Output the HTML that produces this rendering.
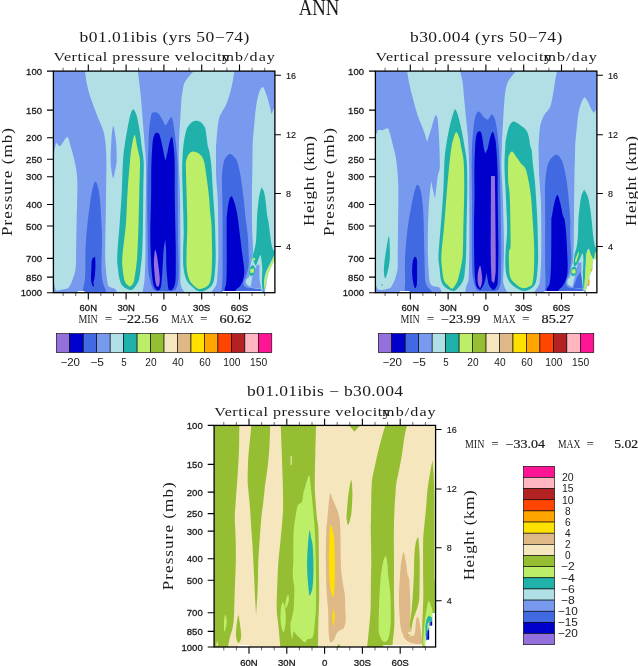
<!DOCTYPE html>
<html><head><meta charset="utf-8"><title>ANN</title>
<style>html,body{margin:0;padding:0;background:#fff}svg{display:block}text{fill:#1a1a1a}</style></head>
<body><svg width="638" height="666" viewBox="0 0 638 666">
<rect width="638" height="666" fill="#fff"/>
<text x="319.0" y="14.8" font-family='"Liberation Serif", serif' font-size="22.6" font-weight="normal" text-anchor="middle" textLength="40.6" lengthAdjust="spacingAndGlyphs">ANN</text>
<g transform="translate(0,0)">
<clipPath id="c1"><rect x="53.4" y="71.1" width="221.49999999999997" height="221.6"/></clipPath>
<g clip-path="url(#c1)"><rect x="53.4" y="71.1" width="221.49999999999997" height="221.6" fill="#7799EE"/>
<path d="M50.0 153.4L53.9 153.4C54.3 151.7 55.2 144.4 56.3 143.2C57.3 142.0 58.4 147.0 60.2 146.0C62.0 145.0 65.5 136.9 67.2 137.0C69.0 137.1 69.4 142.2 70.7 146.4C72.0 150.6 73.8 157.1 74.8 162.0C75.8 166.9 76.6 170.8 77.0 175.7C77.4 180.6 77.5 183.5 77.4 191.3C77.3 199.1 76.8 212.1 76.6 222.7C76.4 233.3 76.2 247.5 76.1 255.0C75.9 262.5 76.0 264.5 75.7 267.6C75.4 270.8 75.1 271.8 74.5 273.9C73.9 276.0 73.0 278.3 72.3 280.2C71.6 282.1 70.9 283.8 70.1 285.2C69.3 286.6 68.9 287.6 67.6 288.3C66.3 289.0 64.3 289.2 62.5 289.6C60.7 290.0 58.1 291.1 56.9 290.8C55.6 290.5 55.5 289.1 55.0 287.7C54.5 286.3 54.2 283.5 54.1 282.7L50.0 282.0Z" fill="#B0E0E6"/>
<path d="M84.8 69.0C85.1 71.5 85.8 78.7 86.8 83.7C87.8 88.8 89.4 94.1 91.1 99.3C92.8 104.5 95.0 109.8 97.0 115.0C99.0 120.2 102.0 126.8 103.3 130.7C104.6 134.6 104.5 135.9 104.9 138.5C105.3 141.1 105.5 142.5 105.8 146.4C106.0 150.3 106.4 154.5 106.4 162.0C106.5 169.5 106.2 181.2 106.1 191.3C106.0 201.4 105.8 212.2 105.6 222.7C105.4 233.1 105.2 246.5 105.2 254.0C105.2 261.5 105.5 263.2 105.8 267.6C106.1 272.0 106.6 277.1 107.1 280.2C107.6 283.3 107.6 284.9 108.9 286.4C110.2 287.8 113.7 287.5 115.2 288.9C116.7 290.3 117.5 294.0 118.0 295.0L142.2 295.0C142.3 294.4 142.4 292.8 142.6 291.4C142.8 290.0 143.3 288.3 143.6 286.4C143.9 284.5 144.2 283.3 144.5 280.2C144.8 277.1 144.9 271.8 145.1 267.6C145.3 263.4 145.4 261.3 145.5 255.0C145.6 248.7 145.4 240.7 145.5 230.0C145.6 219.3 145.8 201.3 145.9 191.0C146.0 180.7 146.1 173.8 146.0 168.0C145.9 162.2 145.8 159.6 145.6 156.0C145.4 152.4 145.1 150.6 144.8 146.4C144.5 142.2 144.0 135.9 143.6 130.7C143.2 125.5 142.7 120.2 142.3 115.0C141.9 109.8 141.6 104.5 141.1 99.3C140.6 94.1 140.0 88.8 139.4 83.7C138.8 78.7 137.9 71.5 137.6 69.0Z" fill="#B0E0E6"/>
<path d="M113.2 126.0C112.5 126.0 111.8 134.3 111.4 140.0C111.0 145.7 110.6 155.0 110.6 160.0C110.6 165.0 111.0 167.0 111.4 170.0C111.8 173.0 112.6 178.0 113.2 178.0C113.8 178.0 114.6 173.0 115.2 170.0C115.8 167.0 116.6 165.0 116.7 160.0C116.8 155.0 116.5 145.7 115.9 140.0C115.3 134.3 114.0 126.0 113.2 126.0Z" fill="#7799EE"/>
<path d="M196.0 69.0C194.7 70.4 190.0 75.0 188.0 77.4C186.0 79.9 185.0 81.4 184.1 83.7C183.2 86.0 182.9 88.9 182.5 91.5C182.1 94.1 181.7 95.4 181.4 99.3C181.1 103.2 180.8 109.8 180.5 115.0C180.2 120.2 179.8 125.5 179.5 130.7C179.2 135.9 179.0 141.2 178.9 146.4C178.8 151.6 178.6 153.6 178.8 162.0C179.0 170.4 179.7 183.3 180.0 197.0C180.3 210.7 180.3 231.0 180.4 244.0C180.5 257.0 180.4 268.3 180.4 275.0C180.4 281.7 180.2 281.5 180.6 284.0C181.0 286.5 182.1 288.2 183.0 290.0C183.9 291.8 185.5 294.2 186.0 295.0L209.0 295.0C209.8 294.0 212.4 291.1 213.7 289.0C215.0 286.9 216.1 286.4 216.8 282.7C217.5 279.0 217.6 272.2 217.9 267.0C218.2 261.8 218.4 259.1 218.4 251.3C218.4 243.5 218.3 229.1 218.2 220.0C218.1 210.9 217.9 204.1 217.6 197.0C217.3 189.9 216.5 185.4 216.2 177.6C215.9 169.8 216.0 155.7 216.0 150.0C216.0 144.3 216.1 146.4 216.3 143.2C216.5 140.0 216.8 134.9 217.3 130.7C217.8 126.5 218.3 121.3 219.1 118.2C219.9 115.1 220.8 114.0 221.9 111.9C223.0 109.8 224.3 108.7 225.7 105.6C227.1 102.5 228.9 97.3 230.1 93.1C231.3 88.9 232.1 84.5 232.9 80.5C233.7 76.5 234.4 70.9 234.7 69.0Z" fill="#B0E0E6"/>
<path d="M250.0 267.0C250.2 266.0 251.0 263.4 251.5 260.8C252.0 258.2 252.8 255.5 252.9 251.3C253.1 247.1 252.6 240.9 252.4 235.7C252.2 230.5 252.1 227.6 252.0 220.0C251.9 212.4 251.9 199.2 252.0 190.0C252.1 180.8 252.3 172.8 252.4 165.0C252.5 157.2 252.5 148.9 252.7 143.2C252.9 137.5 253.3 134.9 253.7 130.7C254.0 126.5 254.4 122.4 254.8 118.2C255.2 114.0 255.5 109.8 256.2 105.6C256.9 101.4 257.8 96.2 258.9 93.1C260.0 90.0 261.5 87.1 262.7 87.1C263.9 87.1 264.6 90.0 265.8 93.1C267.0 96.2 268.7 102.1 269.6 105.6C270.6 109.0 270.9 113.1 271.5 113.8C272.1 114.5 272.4 111.5 273.2 110.0C273.9 108.5 275.5 105.8 276.0 105.0L276.0 262.0L262.0 292.0L256.0 292.0L251.0 287.0C250.2 286.5 247.3 285.2 246.5 284.0C245.7 282.8 245.6 281.2 246.0 280.0C246.4 278.8 248.4 278.3 249.0 277.0C249.6 275.7 249.3 273.7 249.5 272.0C249.7 270.3 249.9 267.8 250.0 267.0Z" fill="#B0E0E6"/>
<path d="M82.5 295.0C82.6 294.2 82.7 291.6 82.9 290.2C83.1 288.8 83.3 288.1 83.6 286.4C83.9 284.7 84.6 283.3 84.9 280.2C85.2 277.1 85.3 271.8 85.4 267.6C85.5 263.4 85.3 259.9 85.4 255.0C85.5 250.1 85.7 243.8 86.1 238.4C86.5 233.0 87.0 227.9 87.6 222.7C88.2 217.5 88.8 212.2 89.5 207.0C90.2 201.8 91.0 195.5 92.0 191.3C93.0 187.1 94.3 181.6 95.5 181.6C96.7 181.6 98.1 187.1 98.9 191.3C99.7 195.5 100.1 201.8 100.5 207.0C100.9 212.2 101.2 217.5 101.4 222.7C101.7 227.9 102.0 233.0 102.0 238.4C102.0 243.8 101.8 250.1 101.7 255.0C101.6 259.9 101.3 263.4 101.4 267.6C101.5 271.8 101.9 277.1 102.4 280.2C102.9 283.3 103.6 284.7 104.2 286.4C104.8 288.1 105.4 288.8 105.8 290.2C106.2 291.6 106.5 294.2 106.6 295.0Z" fill="#4169E1"/>
<path d="M155.0 290.6C152.8 289.8 152.8 288.1 152.0 286.4C151.2 284.7 150.7 283.3 150.1 280.2C149.5 277.1 148.6 276.0 148.2 267.6C147.8 259.2 147.8 241.3 147.6 230.0C147.4 218.7 147.3 210.3 147.3 200.0C147.3 189.7 147.4 176.9 147.6 168.0C147.8 159.1 148.2 152.6 148.5 146.4C148.8 140.2 148.7 135.9 149.1 130.7C149.5 125.5 150.5 118.0 151.2 115.0C151.9 112.0 152.3 112.8 153.5 112.5C154.7 112.2 156.8 112.4 158.2 113.5C159.6 114.6 160.8 117.0 162.0 119.0C163.2 121.0 164.5 125.0 165.7 125.2C166.9 125.4 167.9 121.2 169.0 120.0C170.1 118.8 171.1 116.0 172.0 117.8C172.9 119.6 173.7 125.9 174.4 130.7C175.1 135.5 175.7 141.2 176.2 146.4C176.7 151.6 177.2 153.6 177.5 162.0C177.8 170.4 177.6 183.3 177.7 197.0C177.8 210.7 177.9 232.2 178.1 244.0C178.3 255.8 178.7 261.6 178.7 267.6C178.7 273.6 178.6 276.9 178.3 280.0C178.0 283.1 177.8 284.6 177.1 286.4C176.4 288.2 176.0 289.8 174.0 290.6C172.0 291.4 168.2 291.0 165.0 291.0C161.8 291.0 157.2 291.4 155.0 290.6Z" fill="#4169E1"/>
<path d="M221.3 295.0C221.3 294.2 221.3 292.6 221.5 290.5C221.7 288.4 222.1 286.6 222.3 282.7C222.5 278.8 222.6 277.4 222.6 267.0C222.6 256.6 222.6 231.7 222.6 220.0C222.6 208.3 222.4 204.1 222.3 197.0C222.2 189.9 221.8 182.9 221.9 177.6C222.1 172.3 222.7 168.2 223.2 165.1C223.7 162.0 223.9 160.7 225.1 158.8C226.2 157.0 228.3 154.0 230.1 154.0C231.9 154.0 234.3 157.0 235.7 158.8C237.0 160.7 237.3 162.0 238.2 165.1C239.0 168.2 240.1 173.4 240.8 177.6C241.5 181.8 242.1 186.0 242.6 190.2C243.1 194.4 243.6 197.7 244.1 202.7C244.6 207.7 245.2 214.6 245.8 220.0C246.4 225.4 247.2 229.2 247.7 235.0C248.2 240.8 248.5 249.5 248.7 254.5C248.9 259.5 249.0 261.5 248.7 264.8C248.4 268.1 247.4 271.6 246.7 274.1C246.0 276.6 244.8 278.2 244.3 279.9C243.8 281.6 243.1 283.2 243.5 284.5C243.9 285.8 245.1 286.8 247.0 287.5C248.9 288.2 252.6 288.1 255.0 288.5C257.4 288.9 260.1 288.6 261.4 289.7C262.6 290.8 262.3 294.1 262.5 295.0Z" fill="#4169E1"/>
<path d="M252.3 277.5L255.5 268.0L257.0 264.8L259.4 264.8L259.5 280.0L261.2 288.8L255.0 288.0L250.5 287.5L251.3 283.0Z" fill="#7799EE"/>
<path d="M94.5 257.0C94.0 257.2 92.5 257.7 92.0 259.5C91.5 261.3 91.6 264.2 91.4 267.6C91.2 271.1 90.9 277.3 91.1 280.2C91.3 283.1 91.9 284.2 92.4 285.2C92.9 286.2 93.9 286.8 94.1 286.4C94.3 286.0 93.4 284.2 93.5 282.7C93.6 281.2 94.3 280.1 94.6 277.6C94.9 275.1 95.3 270.9 95.4 267.6C95.5 264.3 95.4 259.8 95.2 258.0C95.0 256.2 95.0 256.8 94.5 257.0Z" fill="#0000CD"/>
<path d="M157.0 290.4C156.5 289.7 154.8 288.1 154.1 286.4C153.4 284.7 153.0 283.3 152.6 280.2C152.2 277.1 151.7 271.8 151.4 267.6C151.1 263.4 151.0 261.4 150.8 255.1C150.6 248.8 150.2 239.7 150.3 230.0C150.4 220.3 150.9 207.3 151.1 197.0C151.3 186.7 151.1 176.4 151.3 168.0C151.5 159.6 151.9 151.6 152.3 146.4C152.7 141.2 153.0 139.2 153.6 137.0C154.2 134.8 155.0 133.5 155.9 133.0C156.8 132.5 158.2 132.6 159.0 133.8C159.8 135.0 160.2 137.0 161.0 140.0C161.8 143.0 162.8 148.5 163.5 152.0C164.2 155.5 165.2 159.5 165.5 161.0L165.5 161.0C165.8 159.5 166.8 155.2 167.5 152.0C168.2 148.8 168.8 144.5 169.5 142.0C170.2 139.5 171.3 136.3 172.0 137.0C172.7 137.7 173.2 142.2 173.6 146.4C174.0 150.6 174.5 153.6 174.7 162.0C174.9 170.4 174.6 183.3 174.8 197.0C175.0 210.7 175.5 232.2 175.7 244.0C175.9 255.8 175.8 261.6 175.8 267.6C175.8 273.6 175.8 277.0 175.5 280.2C175.2 283.4 174.7 285.3 174.0 287.0C173.3 288.7 172.3 289.9 171.4 290.2C170.5 290.5 169.2 290.6 168.5 288.9C167.8 287.2 167.8 283.8 167.4 280.2C167.1 276.6 166.6 272.6 166.4 267.6C166.2 262.6 166.3 254.7 166.1 250.0C165.9 245.3 165.3 241.2 165.2 239.4L165.2 239.4C164.9 241.2 164.0 245.3 163.6 250.0C163.2 254.7 162.9 262.6 162.6 267.6C162.3 272.6 162.1 276.6 161.7 280.2C161.3 283.8 161.0 287.2 160.2 288.9C159.4 290.6 157.5 290.1 157.0 290.4Z" fill="#0000CD"/>
<path d="M224.3 295.0C224.4 294.0 224.4 291.1 224.7 289.0C225.0 286.9 225.9 286.4 226.2 282.7C226.5 279.0 226.6 277.4 226.7 267.0C226.8 256.6 226.6 228.6 226.7 220.0C226.8 211.4 226.7 218.1 227.0 215.2C227.3 212.3 227.9 205.9 228.6 202.7C229.3 199.5 230.3 196.2 231.3 196.2C232.3 196.2 233.5 199.5 234.5 202.7C235.5 205.9 236.5 209.8 237.4 215.2C238.3 220.6 239.1 228.4 239.9 235.0C240.7 241.6 241.6 248.8 242.3 254.5C243.0 260.2 244.1 265.1 244.3 269.2C244.5 273.3 244.0 276.2 243.3 279.0C242.7 281.8 241.6 284.0 240.4 285.8C239.2 287.6 237.1 288.2 236.0 289.7C234.9 291.2 234.3 294.1 234.0 295.0Z" fill="#0000CD"/>
<path d="M155.1 250.1C154.6 251.1 154.0 257.3 153.9 261.3C153.8 265.3 154.3 270.1 154.6 273.9C154.9 277.7 155.3 281.8 155.9 283.9C156.5 286.0 157.7 287.4 158.3 286.8C159.0 286.2 159.8 283.4 159.8 280.2C159.9 277.0 159.1 271.8 158.6 267.6C158.1 263.4 157.4 258.0 156.8 255.1C156.2 252.2 155.6 249.1 155.1 250.1Z" fill="#9370DB"/>
<path d="M133.1 109.5C132.1 109.5 131.3 111.5 130.3 115.0C129.3 118.5 128.1 125.5 127.1 130.7C126.1 135.9 125.2 141.2 124.5 146.4C123.8 151.6 123.4 154.5 122.9 162.0C122.5 169.5 122.3 181.2 121.8 191.3C121.3 201.4 120.5 212.1 119.7 222.7C119.0 233.3 117.6 247.6 117.3 255.1C117.0 262.6 117.4 263.4 117.8 267.6C118.2 271.8 118.9 277.1 119.8 280.2C120.7 283.3 121.5 284.8 123.2 286.4C124.9 288.0 128.3 289.6 130.1 289.9C131.9 290.2 132.4 289.9 133.8 288.3C135.2 286.7 137.7 283.6 138.8 280.2C140.0 276.8 140.2 271.8 140.7 267.6C141.2 263.4 141.6 261.4 142.0 255.1C142.4 248.8 142.7 240.6 142.9 230.0C143.1 219.4 143.2 202.6 143.3 191.3C143.4 180.0 144.0 169.5 143.7 162.0C143.4 154.5 142.4 151.6 141.7 146.4C141.0 141.2 140.6 135.9 139.7 130.7C138.8 125.5 137.6 118.5 136.5 115.0C135.4 111.5 134.1 109.5 133.1 109.5Z" fill="#20B2AA"/>
<path d="M194.3 121.0C192.5 121.4 191.0 122.8 189.6 124.4C188.2 126.0 187.1 127.0 186.1 130.7C185.1 134.4 184.0 140.2 183.3 146.4C182.7 152.6 182.3 159.6 182.2 168.0C182.1 176.4 182.6 186.7 182.8 197.0C183.1 207.3 183.6 220.9 183.7 230.0C183.8 239.1 183.1 245.1 183.1 251.3C183.1 257.5 182.9 262.3 183.4 267.0C183.9 271.7 185.0 276.5 186.3 279.6C187.6 282.7 188.9 283.9 191.0 285.8C193.1 287.8 196.2 290.7 198.8 291.3C201.4 291.9 204.2 291.1 206.6 289.7C209.0 288.3 211.8 286.5 213.2 282.7C214.6 278.9 214.9 272.2 215.3 267.0C215.7 261.8 215.8 259.1 215.7 251.3C215.6 243.5 215.2 229.1 214.8 220.0C214.4 210.9 213.9 206.2 213.3 197.0C212.7 187.8 212.0 172.9 211.3 165.1C210.6 157.3 209.6 153.1 209.0 150.0C208.4 146.9 208.5 149.6 207.9 146.4C207.3 143.2 206.3 134.0 205.7 130.7C205.1 127.4 205.4 128.2 204.5 126.8C203.6 125.3 202.2 123.0 200.5 122.0C198.8 121.0 196.1 120.6 194.3 121.0Z" fill="#20B2AA"/>
<path d="M261.2 187.6C260.9 189.1 259.7 193.9 259.2 196.4C258.7 198.9 258.6 199.6 258.3 202.7C258.0 205.8 257.4 209.8 257.1 215.2C256.8 220.6 256.7 230.1 256.4 235.0C256.1 239.9 256.0 241.9 255.5 244.8C255.0 247.7 254.1 250.5 253.6 252.6C253.1 254.7 252.3 255.9 252.4 257.5C252.5 259.1 253.4 261.0 254.0 262.3C254.6 263.6 255.2 265.9 256.0 265.3C256.8 264.8 257.7 260.7 258.5 259.0C259.3 257.3 260.1 254.9 260.6 255.0C261.1 255.1 261.1 257.0 261.4 259.4C261.7 261.8 262.2 265.9 262.3 269.2C262.4 272.5 261.9 275.9 261.9 279.0C261.9 282.1 262.0 285.7 262.3 287.7C262.6 289.7 263.5 292.4 263.8 291.0C264.1 289.6 263.9 282.3 264.3 279.0C264.7 275.7 265.3 273.7 266.3 271.1C267.3 268.5 268.9 265.9 270.2 263.3C271.5 260.7 273.1 257.4 274.1 255.5C275.1 253.6 275.7 252.6 276.0 252.0L276.0 252.0C275.6 251.8 274.3 251.8 273.6 250.6C272.9 249.4 272.2 247.4 271.6 244.8C271.0 242.2 270.7 238.8 270.2 235.0C269.7 231.2 269.0 225.3 268.5 222.0C268.0 218.7 267.6 218.4 267.1 215.2C266.7 212.0 266.3 206.7 265.8 202.7C265.3 198.7 264.7 193.9 263.9 191.4C263.1 188.9 261.6 188.2 261.2 187.6Z" fill="#20B2AA"/>
<path d="M252.0 265.3C251.2 265.8 250.1 267.7 249.6 269.0C249.1 270.3 249.0 271.8 249.2 273.0C249.3 274.2 249.9 275.6 250.5 276.0C251.1 276.4 251.8 276.1 252.5 275.6C253.2 275.1 254.2 274.1 254.6 273.0C255.0 271.9 255.1 270.1 255.0 269.0C254.9 267.9 254.7 266.9 254.2 266.3C253.7 265.7 252.8 264.9 252.0 265.3Z" fill="#20B2AA"/>
<path d="M134.6 135.1C133.7 135.1 132.6 141.9 131.8 146.4C131.0 150.9 130.6 154.5 129.9 162.0C129.2 169.5 128.2 181.2 127.6 191.3C126.9 201.4 126.8 212.1 126.0 222.7C125.2 233.3 123.1 247.6 122.5 255.1C121.9 262.6 122.2 263.4 122.5 267.6C122.8 271.8 123.6 277.3 124.4 280.2C125.2 283.1 126.5 284.0 127.5 285.0C128.4 286.0 129.2 286.6 130.1 286.4C130.9 286.2 131.9 284.9 132.6 283.9C133.3 282.9 133.5 282.9 134.1 280.2C134.7 277.5 135.6 271.8 136.1 267.6C136.6 263.4 136.9 262.2 137.3 255.1C137.7 248.0 138.2 235.6 138.5 225.0C138.8 214.4 139.1 201.8 139.3 191.3C139.6 180.8 140.1 168.1 140.0 162.0C139.9 155.9 139.5 157.6 139.0 155.0C138.5 152.4 137.8 149.7 137.1 146.4C136.4 143.1 135.5 135.1 134.6 135.1Z" fill="#BCEE68"/>
<path d="M193.3 151.6C191.4 151.5 189.9 152.9 188.8 154.2C187.7 155.5 187.0 157.5 186.5 159.4C186.0 161.3 185.9 159.4 185.9 165.7C185.9 172.0 186.5 187.1 186.7 197.0C186.9 206.9 187.3 215.9 187.3 225.0C187.3 234.1 186.7 244.3 186.6 251.3C186.5 258.3 186.3 262.6 186.6 267.0C186.9 271.4 187.6 275.1 188.6 278.0C189.6 280.9 190.8 282.5 192.5 284.3C194.2 286.1 196.6 288.5 198.8 289.0C201.0 289.5 204.1 288.2 205.9 287.1C207.7 286.1 208.9 284.7 209.8 282.7C210.7 280.7 211.0 277.5 211.3 274.9C211.6 272.3 211.7 270.9 211.8 267.0C211.9 263.1 212.2 258.3 212.1 251.3C212.0 244.3 211.8 231.4 211.5 225.0C211.2 218.6 210.6 217.4 210.2 212.7C209.8 208.0 209.5 202.2 209.0 197.0C208.5 191.8 207.9 187.1 207.1 181.3C206.3 175.6 205.4 166.9 204.3 162.5C203.2 158.1 202.1 156.5 200.3 154.7C198.5 152.9 195.2 151.7 193.3 151.6Z" fill="#BCEE68"/>
<path d="M250.1 268.9L253.9 268.4L254.0 272.6L250.3 273.1Z" fill="#BCEE68"/>
<path d="M253.1 257.9L255.0 257.7L255.0 260.4L253.2 260.6Z" fill="#BCEE68"/>
<path d="M275.0 254.0L270.6 263.6L266.8 271.3L264.8 279.0L264.2 286.0L264.6 290.5L265.8 286.0L266.6 279.0L268.4 272.5L271.8 265.5L275.0 258.5Z" fill="#BCEE68"/>
<path d="M276.0 258.0L272.0 265.5L268.7 273.0L267.0 281.0L266.0 287.0L264.8 291.0L264.8 295.0L276.0 295.0Z" fill="#FFFFFF"/>
<path d="M222.4 290.9L262.0 290.9L262.0 295.0L222.4 295.0Z" fill="#FFFFFF"/>
<path d="M77.8 291.0L84.5 291.0L84.5 295.0L77.8 295.0Z" fill="#FFFFFF"/>
</g>
<rect x="53.4" y="71.1" width="221.49999999999997" height="221.6" fill="none" stroke="#000" stroke-width="1.3"/>
<path d="M88.3 71.1v-6.7M88.3 292.7v6.7M126.1 71.1v-6.7M126.1 292.7v6.7M163.9 71.1v-6.7M163.9 292.7v6.7M201.7 71.1v-6.7M201.7 292.7v6.7M239.5 71.1v-6.7M239.5 292.7v6.7M53.4 71.1h-6.4M53.4 110.1h-6.4M53.4 137.8h-6.4M53.4 159.3h-6.4M53.4 176.8h-6.4M53.4 204.5h-6.4M53.4 226.0h-6.4M53.4 258.4h-6.4M53.4 277.1h-6.4M53.4 292.7h-6.4M274.9 75.2h6.0M274.9 134.7h6.0M274.9 193.5h6.0M274.9 246.5h6.0" stroke="#000" stroke-width="1.1" fill="none"/>
<path d="M63.1 71.1v-3.4M63.1 292.7v3.4M75.7 71.1v-3.4M75.7 292.7v3.4M100.9 71.1v-3.4M100.9 292.7v3.4M113.5 71.1v-3.4M113.5 292.7v3.4M138.7 71.1v-3.4M138.7 292.7v3.4M151.3 71.1v-3.4M151.3 292.7v3.4M176.5 71.1v-3.4M176.5 292.7v3.4M189.1 71.1v-3.4M189.1 292.7v3.4M214.3 71.1v-3.4M214.3 292.7v3.4M226.9 71.1v-3.4M226.9 292.7v3.4M252.1 71.1v-3.4M252.1 292.7v3.4M264.7 71.1v-3.4M264.7 292.7v3.4" stroke="#000" stroke-width="0.6" fill="none"/>
<text x="42.0" y="74.7" font-family='"Liberation Sans", sans-serif' font-size="9.8" font-weight="normal" text-anchor="end" textLength="15.9" lengthAdjust="spacingAndGlyphs" stroke="#1a1a1a" stroke-width="0.3">100</text>
<text x="42.0" y="113.7" font-family='"Liberation Sans", sans-serif' font-size="9.8" font-weight="normal" text-anchor="end" textLength="15.9" lengthAdjust="spacingAndGlyphs" stroke="#1a1a1a" stroke-width="0.3">150</text>
<text x="42.0" y="141.4" font-family='"Liberation Sans", sans-serif' font-size="9.8" font-weight="normal" text-anchor="end" textLength="15.9" lengthAdjust="spacingAndGlyphs" stroke="#1a1a1a" stroke-width="0.3">200</text>
<text x="42.0" y="162.9" font-family='"Liberation Sans", sans-serif' font-size="9.8" font-weight="normal" text-anchor="end" textLength="15.9" lengthAdjust="spacingAndGlyphs" stroke="#1a1a1a" stroke-width="0.3">250</text>
<text x="42.0" y="180.4" font-family='"Liberation Sans", sans-serif' font-size="9.8" font-weight="normal" text-anchor="end" textLength="15.9" lengthAdjust="spacingAndGlyphs" stroke="#1a1a1a" stroke-width="0.3">300</text>
<text x="42.0" y="208.1" font-family='"Liberation Sans", sans-serif' font-size="9.8" font-weight="normal" text-anchor="end" textLength="15.9" lengthAdjust="spacingAndGlyphs" stroke="#1a1a1a" stroke-width="0.3">400</text>
<text x="42.0" y="229.6" font-family='"Liberation Sans", sans-serif' font-size="9.8" font-weight="normal" text-anchor="end" textLength="15.9" lengthAdjust="spacingAndGlyphs" stroke="#1a1a1a" stroke-width="0.3">500</text>
<text x="42.0" y="262.0" font-family='"Liberation Sans", sans-serif' font-size="9.8" font-weight="normal" text-anchor="end" textLength="15.9" lengthAdjust="spacingAndGlyphs" stroke="#1a1a1a" stroke-width="0.3">700</text>
<text x="42.0" y="280.7" font-family='"Liberation Sans", sans-serif' font-size="9.8" font-weight="normal" text-anchor="end" textLength="15.9" lengthAdjust="spacingAndGlyphs" stroke="#1a1a1a" stroke-width="0.3">850</text>
<text x="42.0" y="296.3" font-family='"Liberation Sans", sans-serif' font-size="9.8" font-weight="normal" text-anchor="end" textLength="21.2" lengthAdjust="spacingAndGlyphs" stroke="#1a1a1a" stroke-width="0.3">1000</text>
<text x="286.0" y="78.6" font-family='"Liberation Sans", sans-serif' font-size="9.0" font-weight="normal" text-anchor="start" textLength="10.0" lengthAdjust="spacingAndGlyphs" stroke="#1a1a1a" stroke-width="0.15">16</text>
<text x="286.0" y="138.1" font-family='"Liberation Sans", sans-serif' font-size="9.0" font-weight="normal" text-anchor="start" textLength="10.0" lengthAdjust="spacingAndGlyphs" stroke="#1a1a1a" stroke-width="0.15">12</text>
<text x="286.0" y="196.9" font-family='"Liberation Sans", sans-serif' font-size="9.0" font-weight="normal" text-anchor="start" textLength="5.0" lengthAdjust="spacingAndGlyphs" stroke="#1a1a1a" stroke-width="0.15">8</text>
<text x="286.0" y="249.9" font-family='"Liberation Sans", sans-serif' font-size="9.0" font-weight="normal" text-anchor="start" textLength="5.0" lengthAdjust="spacingAndGlyphs" stroke="#1a1a1a" stroke-width="0.15">4</text>
<text x="79.6" y="311.3" font-family='"Liberation Sans", sans-serif' font-size="9.8" font-weight="normal" text-anchor="start" textLength="17.4" lengthAdjust="spacingAndGlyphs" stroke="#1a1a1a" stroke-width="0.3">60N</text>
<text x="117.4" y="311.3" font-family='"Liberation Sans", sans-serif' font-size="9.8" font-weight="normal" text-anchor="start" textLength="17.4" lengthAdjust="spacingAndGlyphs" stroke="#1a1a1a" stroke-width="0.3">30N</text>
<text x="161.2" y="311.3" font-family='"Liberation Sans", sans-serif' font-size="9.8" font-weight="normal" text-anchor="start" textLength="5.4" lengthAdjust="spacingAndGlyphs" stroke="#1a1a1a" stroke-width="0.3">0</text>
<text x="193.0" y="311.3" font-family='"Liberation Sans", sans-serif' font-size="9.8" font-weight="normal" text-anchor="start" textLength="17.4" lengthAdjust="spacingAndGlyphs" stroke="#1a1a1a" stroke-width="0.3">30S</text>
<text x="230.8" y="311.3" font-family='"Liberation Sans", sans-serif' font-size="9.8" font-weight="normal" text-anchor="start" textLength="17.4" lengthAdjust="spacingAndGlyphs" stroke="#1a1a1a" stroke-width="0.3">60S</text>
<text transform="translate(79.6,41.5) scale(1.2,1)" font-family='"Liberation Serif", serif' font-size="14.6" font-weight="normal" textLength="141.5" lengthAdjust="spacing">b01.01ibis (yrs 50−74)</text>
<text transform="translate(53.6,61.4) scale(1.2,1)" font-family='"Liberation Serif", serif' font-size="13.4" font-weight="normal" textLength="147.1" lengthAdjust="spacing">Vertical pressure velocity</text>
<text transform="translate(221.4,61.4) scale(1.2,1)" font-family='"Liberation Serif", serif' font-size="13.4" font-weight="normal" textLength="44.6" lengthAdjust="spacing">mb/day</text>
<text transform="translate(12,236) rotate(-90) scale(1.15,1)" font-family='"Liberation Serif", serif' font-size="14.8" textLength="93.9" lengthAdjust="spacing">Pressure (mb)</text>
<text transform="translate(313.5,226) rotate(-90) scale(1.15,1)" font-family='"Liberation Serif", serif' font-size="14.8" textLength="78.3" lengthAdjust="spacing">Height (km)</text>
</g>
<g transform="translate(322,0)">
<clipPath id="c2"><rect x="53.4" y="71.1" width="221.49999999999997" height="221.6"/></clipPath>
<g clip-path="url(#c2)"><rect x="53.4" y="71.1" width="221.49999999999997" height="221.6" fill="#7799EE"/>
<path d="M50.0 134.0L54.7 133.8C55.0 133.2 55.4 130.5 56.3 129.9C57.2 129.3 58.6 130.5 60.2 130.2C61.8 129.9 64.4 127.7 65.7 128.3C67.0 128.9 67.2 131.3 68.0 133.8C68.8 136.3 69.5 139.5 70.4 143.2C71.3 146.9 72.7 151.7 73.5 155.8C74.3 159.9 74.6 163.1 75.1 168.0C75.6 172.9 76.1 178.5 76.3 185.0C76.5 191.5 76.3 199.5 76.3 207.0C76.2 214.5 76.1 222.0 76.0 230.0C75.9 238.0 75.8 248.7 75.7 255.0C75.7 261.3 75.9 264.5 75.7 267.6C75.5 270.8 75.0 271.8 74.5 273.9C74.0 276.0 73.3 278.3 72.6 280.2C71.9 282.1 70.9 283.8 70.1 285.2C69.3 286.6 69.3 287.5 67.6 288.3C65.9 289.1 62.0 289.8 60.0 289.9C58.0 290.0 56.6 289.7 55.6 288.9C54.6 288.1 54.4 285.8 54.1 285.2L50.0 285.0Z" fill="#B0E0E6"/>
<path d="M84.8 69.0C85.2 71.5 86.2 78.7 87.3 83.7C88.3 88.8 89.7 94.1 91.1 99.3C92.5 104.5 93.7 109.8 95.5 115.0C97.3 120.2 100.1 126.2 101.7 130.7C103.3 135.1 104.6 139.9 105.2 141.7L105.2 141.7C105.9 139.3 108.4 131.5 109.6 127.6C110.8 123.7 111.5 120.6 112.2 118.5C112.9 116.4 113.3 115.6 113.5 115.0L113.5 115.0C113.8 115.5 115.0 115.6 115.5 118.2C116.0 120.8 116.3 126.0 116.6 130.7C116.9 135.4 117.2 140.2 117.4 146.4C117.6 152.6 118.0 163.1 117.7 168.0C117.4 172.9 116.4 171.8 115.8 175.7C115.2 179.6 114.4 187.5 113.9 191.3C113.4 195.1 113.2 197.2 113.0 198.4L113.0 198.4C112.7 197.0 111.6 192.9 111.0 190.0C110.4 187.1 109.5 182.7 109.2 181.2L109.2 181.2C109.0 182.9 108.4 187.0 108.0 191.3C107.6 195.6 107.0 201.8 106.7 207.0C106.4 212.2 106.2 217.2 106.1 222.7C105.9 228.2 105.8 234.8 105.8 240.0C105.8 245.2 105.7 249.4 105.8 254.0C105.9 258.6 106.1 263.2 106.4 267.6C106.7 272.0 106.9 277.3 107.4 280.2C107.9 283.1 108.7 284.2 109.6 285.2C110.5 286.2 111.5 286.1 112.7 286.4C113.9 286.7 115.5 286.5 116.5 287.1C117.5 287.7 118.5 288.7 119.0 290.0C119.5 291.3 119.4 294.2 119.5 295.0L143.0 295.0C143.2 293.8 143.3 290.2 143.9 287.7C144.5 285.2 145.9 283.5 146.4 280.2C146.9 276.9 146.8 272.6 147.0 267.6C147.2 262.6 147.2 256.3 147.3 250.0C147.4 243.7 147.4 238.3 147.4 230.0C147.4 221.7 147.3 210.3 147.3 200.0C147.3 189.7 147.3 176.9 147.2 168.0C147.0 159.1 146.7 152.6 146.4 146.4C146.1 140.2 145.8 135.9 145.3 130.7C144.9 125.5 144.2 120.2 143.7 115.0C143.2 109.8 142.7 104.5 142.2 99.3C141.7 94.1 141.4 87.8 140.9 83.7C140.4 79.7 139.5 77.5 139.0 75.0C138.5 72.5 138.0 70.0 137.8 69.0Z" fill="#B0E0E6"/>
<path d="M196.0 69.0C194.8 70.4 190.6 75.0 188.8 77.4C187.0 79.9 186.1 81.4 185.2 83.7C184.3 86.0 183.8 88.9 183.3 91.5C182.9 94.1 182.8 95.4 182.5 99.3C182.2 103.2 181.7 109.8 181.4 115.0C181.1 120.2 180.8 125.5 180.5 130.7C180.2 135.9 180.0 140.2 179.8 146.4C179.6 152.6 179.2 159.6 179.4 168.0C179.6 176.4 180.4 184.3 180.8 197.0C181.2 209.7 181.9 231.8 182.0 244.0C182.1 256.2 181.6 263.7 181.5 270.0C181.4 276.3 180.9 278.8 181.2 282.0C181.5 285.2 182.5 286.8 183.5 289.0C184.5 291.2 186.4 294.0 187.0 295.0L210.0 295.0C210.8 294.0 213.2 291.1 214.5 289.0C215.8 286.9 216.9 286.4 217.6 282.7C218.3 279.0 218.6 273.4 218.9 267.0C219.2 260.6 219.2 251.8 219.3 244.0C219.4 236.2 219.3 227.8 219.2 220.0C219.1 212.2 219.0 204.1 218.7 197.0C218.4 189.9 217.7 185.4 217.3 177.6C217.0 169.8 216.7 155.7 216.6 150.0C216.5 144.3 216.5 146.4 216.7 143.2C216.9 140.0 217.2 134.0 217.6 130.7C217.9 127.4 218.1 125.7 218.8 123.2C219.5 120.7 220.8 117.7 221.9 115.6C223.1 113.5 224.6 112.3 225.7 110.6C226.8 108.9 227.7 108.5 228.6 105.6C229.5 102.7 230.5 97.3 231.3 93.1C232.1 88.9 232.5 84.5 233.2 80.5C233.9 76.5 235.0 70.9 235.3 69.0Z" fill="#B0E0E6"/>
<path d="M249.5 267.0C249.8 266.0 250.7 263.4 251.0 260.8C251.3 258.2 251.4 255.5 251.5 251.3C251.6 247.1 251.7 240.9 251.8 235.7C251.9 230.5 251.9 229.7 252.0 220.0C252.1 210.3 252.2 188.4 252.4 177.6C252.6 166.8 252.8 160.7 253.0 155.0C253.2 149.3 253.1 147.2 253.3 143.2C253.6 139.1 254.1 134.9 254.5 130.7C254.9 126.5 255.2 122.4 255.8 118.2C256.4 114.0 257.2 109.0 258.3 105.6C259.4 102.2 261.0 98.6 262.1 97.8C263.2 97.0 264.2 99.1 265.2 100.6C266.2 102.1 267.2 104.9 268.3 106.9C269.4 108.9 270.6 111.9 271.5 112.5C272.4 113.1 272.8 111.2 273.5 110.4C274.2 109.6 275.6 108.0 276.0 107.5L276.0 262.0L262.0 292.0L256.0 292.0L250.5 287.0C249.8 286.6 246.8 285.7 246.0 284.5C245.2 283.3 245.3 281.2 245.6 280.0C245.9 278.8 247.4 278.3 248.0 277.0C248.6 275.7 248.8 273.7 249.0 272.0C249.2 270.3 249.4 267.8 249.5 267.0Z" fill="#B0E0E6"/>
<path d="M82.3 295.0C82.3 294.2 82.4 292.5 82.6 290.0C82.8 287.5 83.2 283.9 83.2 280.2C83.2 276.5 82.9 271.8 82.9 267.6C82.9 263.4 82.9 259.9 83.2 255.0C83.5 250.1 84.0 243.8 84.5 238.4C85.0 233.0 85.6 227.9 86.4 222.7C87.2 217.5 88.2 212.2 89.2 207.0C90.2 201.8 91.5 195.0 92.6 191.3C93.6 187.6 94.5 184.8 95.5 184.8C96.5 184.8 98.0 187.6 98.9 191.3C99.8 195.0 100.4 201.8 100.9 207.0C101.4 212.2 101.5 217.5 101.7 222.7C101.9 227.9 101.9 233.0 102.0 238.4C102.1 243.8 102.3 250.1 102.4 255.0C102.5 259.9 102.6 263.4 102.7 267.6C102.8 271.8 102.9 277.1 103.3 280.2C103.7 283.3 104.3 284.7 105.2 286.4C106.1 288.1 108.0 288.8 108.9 290.2C109.8 291.6 110.2 294.2 110.5 295.0Z" fill="#4169E1"/>
<path d="M156.0 290.6C153.9 289.8 154.1 288.1 153.3 286.4C152.5 284.7 151.9 283.3 151.4 280.2C150.9 277.1 150.3 276.0 150.1 267.6C149.8 259.2 149.9 241.3 149.9 230.0C149.9 218.7 150.1 210.3 150.1 200.0C150.1 189.7 149.7 176.9 149.7 168.0C149.7 159.1 149.8 152.6 150.1 146.4C150.3 140.2 150.8 135.1 151.2 130.7C151.6 126.2 152.1 122.6 152.7 119.7C153.3 116.8 153.9 114.8 154.6 113.5C155.2 112.2 155.9 111.6 156.6 111.6C157.3 111.6 158.0 112.5 158.8 113.3C159.6 114.1 160.2 115.5 161.3 116.6C162.5 117.7 164.6 119.7 165.7 119.7C166.8 119.7 167.2 117.3 168.0 116.5C168.8 115.7 169.6 114.2 170.4 114.7C171.2 115.2 172.3 117.0 173.1 119.7C173.9 122.4 174.5 126.2 175.1 130.7C175.7 135.1 176.2 140.2 176.7 146.4C177.1 152.6 177.5 159.6 177.8 168.0C178.1 176.4 178.2 184.3 178.4 197.0C178.6 209.7 179.1 232.2 179.2 244.0C179.3 255.8 179.1 261.6 179.0 267.6C178.9 273.6 179.1 276.9 178.9 280.0C178.7 283.1 178.3 284.6 177.7 286.4C177.0 288.2 176.9 289.8 175.0 290.6C173.1 291.4 169.2 291.0 166.0 291.0C162.8 291.0 158.1 291.4 156.0 290.6Z" fill="#4169E1"/>
<path d="M222.6 295.0C222.7 294.2 222.8 292.6 223.0 290.5C223.2 288.4 223.6 286.6 223.6 282.7C223.6 278.8 223.3 273.4 223.2 267.0C223.1 260.6 223.1 251.8 223.1 244.0C223.1 236.2 223.2 227.8 223.2 220.0C223.2 212.2 223.1 202.0 223.1 197.0C223.1 192.0 222.8 193.4 222.9 190.2C223.0 187.0 223.1 181.8 223.6 177.6C224.1 173.4 224.7 168.4 225.7 165.1C226.7 161.8 228.0 159.7 229.5 158.0C231.0 156.3 233.3 154.6 234.9 154.8C236.5 155.0 237.9 157.3 239.0 159.0C240.1 160.7 240.6 162.0 241.4 165.1C242.2 168.2 243.4 173.4 244.1 177.6C244.8 181.8 245.3 186.0 245.8 190.2C246.3 194.4 246.6 197.7 247.0 202.7C247.4 207.7 248.1 214.6 248.3 220.0C248.5 225.4 248.0 229.2 248.2 235.0C248.3 240.8 249.1 249.6 249.2 254.5C249.3 259.4 249.1 261.0 248.7 264.3C248.3 267.6 247.4 271.5 246.7 274.1C246.0 276.7 244.9 278.3 244.5 280.0C244.1 281.7 243.6 283.2 244.0 284.5C244.4 285.8 245.2 286.8 247.0 287.5C248.8 288.2 252.7 288.1 255.0 288.5C257.3 288.9 259.8 288.6 261.0 289.7C262.2 290.8 261.8 294.1 262.0 295.0Z" fill="#4169E1"/>
<path d="M252.6 277.5L254.6 268.0L256.3 262.5L259.4 262.5L259.6 280.0L261.0 288.8L255.0 288.3L250.5 287.5L251.3 283.0Z" fill="#7799EE"/>
<path d="M254.8 277.5L258.3 272.0L260.0 280.0L260.6 288.6L251.0 288.2L252.8 283.5Z" fill="#4169E1"/>
<path d="M92.6 257.0C92.0 257.6 91.2 258.9 90.8 261.3C90.4 263.7 90.1 268.2 90.1 271.4C90.1 274.5 90.5 277.8 90.8 280.2C91.1 282.6 91.6 284.1 92.0 285.5C92.4 286.9 92.8 288.6 93.3 288.3C93.8 288.0 94.6 286.3 94.9 283.9C95.2 281.5 95.1 277.7 95.1 273.9C95.1 270.1 95.3 264.0 95.1 261.3C94.9 258.6 94.5 258.3 94.1 257.6C93.7 256.9 93.1 256.4 92.6 257.0Z" fill="#0000CD"/>
<path d="M158.3 289.9C157.7 289.3 155.3 288.0 154.5 286.4C153.7 284.8 153.7 283.3 153.3 280.2C153.0 277.1 152.6 276.0 152.4 267.6C152.2 259.2 152.0 241.8 152.0 230.0C152.0 218.2 152.4 207.3 152.5 197.0C152.6 186.7 152.3 176.4 152.4 168.0C152.5 159.6 152.9 151.8 153.2 146.4C153.5 141.0 153.7 137.9 154.3 135.4C154.9 132.9 155.8 132.0 156.6 131.5C157.4 131.0 158.3 131.1 159.0 132.3C159.7 133.6 160.0 136.4 160.5 139.0C161.0 141.6 161.4 145.6 161.8 148.0C162.2 150.4 163.0 152.5 163.2 153.4L163.2 153.4C163.6 152.7 164.8 151.2 165.5 149.0C166.2 146.8 166.9 142.5 167.5 140.0C168.1 137.5 168.7 135.3 169.3 134.0C169.9 132.7 170.5 131.6 171.1 132.3C171.7 133.1 172.6 136.2 173.1 138.5C173.6 140.8 173.8 141.5 174.2 146.4C174.6 151.3 175.2 159.6 175.5 168.0C175.8 176.4 175.5 184.3 175.7 197.0C175.8 209.7 176.3 232.3 176.4 244.0C176.5 255.7 176.3 261.0 176.2 267.0C176.1 273.0 176.0 277.2 175.8 280.2C175.6 283.2 175.9 283.6 175.2 285.2C174.5 286.8 172.8 289.9 171.4 289.9C170.1 289.9 168.1 287.0 167.1 285.2C166.1 283.4 166.0 281.1 165.6 279.0C165.2 276.9 164.7 273.7 164.5 272.6L164.5 272.6C164.3 273.7 163.9 276.9 163.4 279.0C162.9 281.1 162.2 283.4 161.4 285.2C160.6 287.0 158.8 289.1 158.3 289.9Z" fill="#0000CD"/>
<path d="M224.3 295.0C224.4 294.0 224.1 291.1 224.7 289.0C225.3 286.9 227.1 286.4 227.8 282.7C228.5 279.0 228.7 273.4 228.9 267.0C229.2 260.6 229.2 251.8 229.3 244.0C229.4 236.2 229.3 224.8 229.4 220.0C229.5 215.2 229.6 218.1 230.1 215.2C230.6 212.3 231.5 206.1 232.4 202.7C233.3 199.3 234.4 194.9 235.4 194.9C236.4 194.9 237.3 199.3 238.2 202.7C239.1 206.1 240.1 212.3 240.8 215.2C241.6 218.1 242.1 216.7 242.7 220.0C243.3 223.3 243.9 229.2 244.3 235.0C244.7 240.8 245.1 249.6 245.3 254.5C245.5 259.4 245.7 261.0 245.7 264.3C245.7 267.6 245.6 271.5 245.3 274.1C245.0 276.7 244.5 277.9 243.8 279.9C243.1 281.8 242.0 284.2 240.9 285.8C239.8 287.4 238.2 288.2 237.0 289.7C235.8 291.2 234.5 294.1 234.0 295.0Z" fill="#0000CD"/>
<path d="M157.9 265.7C157.3 266.3 156.2 271.1 155.8 273.9C155.5 276.7 155.4 280.4 155.8 282.7C156.2 285.0 157.6 288.1 158.3 287.7C159.0 287.3 160.0 283.1 160.2 280.2C160.3 277.3 159.6 272.5 159.2 270.1C158.8 267.7 158.5 265.1 157.9 265.7Z" fill="#9370DB"/>
<path d="M169.0 175.9L172.9 175.9L173.3 210.0L173.7 250.0L173.7 272.0L172.6 281.0L171.4 283.3L169.6 280.2L168.9 265.0L168.7 250.0L168.8 210.0Z" fill="#9370DB"/>
<path d="M66.9 236.3C66.3 236.3 65.1 244.6 64.4 248.8C63.7 253.0 62.9 257.5 62.5 261.3C62.1 265.1 61.8 268.6 61.9 271.4C62.0 274.2 62.6 278.3 63.2 278.3C63.8 278.3 65.0 274.2 65.7 271.4C66.4 268.6 67.2 265.1 67.6 261.3C67.9 257.5 67.9 253.0 67.8 248.8C67.7 244.6 67.5 236.3 66.9 236.3Z" fill="#20B2AA"/>
<path d="M59.4 284.3L60.6 284.3L60.6 285.5L59.4 285.5Z" fill="#20B2AA"/>
<path d="M133.1 109.5C132.2 109.5 131.8 111.5 130.7 115.0C129.6 118.5 127.9 125.5 126.8 130.7C125.7 135.9 124.7 141.2 124.0 146.4C123.3 151.6 122.9 154.5 122.4 162.0C122.0 169.5 121.9 181.2 121.3 191.3C120.7 201.4 119.8 212.1 119.0 222.7C118.2 233.3 116.8 247.5 116.5 255.0C116.2 262.5 117.1 263.4 117.5 267.6C117.9 271.8 118.2 277.1 119.0 280.2C119.8 283.3 120.7 284.6 122.5 286.4C124.3 288.2 128.0 290.4 130.1 290.8C132.2 291.2 133.2 290.7 135.1 288.9C137.0 287.1 140.0 283.8 141.3 280.2C142.7 276.6 142.7 271.8 143.2 267.6C143.7 263.4 143.9 261.3 144.1 255.0C144.3 248.7 144.3 240.6 144.5 230.0C144.7 219.4 145.2 202.6 145.3 191.3C145.4 180.0 145.3 169.5 144.8 162.0C144.3 154.5 143.3 151.6 142.5 146.4C141.7 141.2 140.8 135.9 139.7 130.7C138.6 125.5 137.0 118.5 135.9 115.0C134.8 111.5 134.0 109.5 133.1 109.5Z" fill="#20B2AA"/>
<path d="M190.3 122.1C189.0 122.9 187.7 124.9 186.7 127.6C185.7 130.3 184.7 135.4 184.1 138.5C183.5 141.6 183.6 141.5 183.3 146.4C183.0 151.3 182.4 159.6 182.5 168.0C182.6 176.4 183.5 186.7 183.9 197.0C184.3 207.3 185.2 220.9 185.1 230.0C185.0 239.1 183.9 245.1 183.6 251.3C183.3 257.5 183.1 262.6 183.4 267.0C183.7 271.4 184.2 274.9 185.5 278.0C186.8 281.1 188.5 283.7 191.0 285.8C193.5 287.9 197.5 290.3 200.4 290.8C203.3 291.3 206.0 290.4 208.2 289.0C210.4 287.6 212.4 286.4 213.7 282.7C214.9 279.0 215.3 272.2 215.7 267.0C216.1 261.8 216.2 259.1 216.1 251.3C216.0 243.5 215.7 229.1 215.3 220.0C215.0 210.9 214.4 203.4 214.0 197.0C213.6 190.6 213.4 186.6 212.9 181.3C212.4 176.0 211.5 170.3 211.0 165.1C210.5 159.9 210.1 153.1 209.7 150.0C209.3 146.9 208.9 148.6 208.4 146.4C207.9 144.2 207.5 139.6 206.8 137.0C206.2 134.4 205.6 132.4 204.5 130.7C203.4 129.0 202.2 128.2 200.5 126.8C198.8 125.4 196.0 123.3 194.3 122.5C192.6 121.7 191.6 121.2 190.3 122.1Z" fill="#20B2AA"/>
<path d="M262.1 189.5C261.6 190.7 260.0 193.2 259.2 196.4C258.4 199.7 257.9 205.1 257.4 209.0C256.9 212.9 256.6 215.7 256.4 220.0C256.2 224.3 256.2 230.9 256.0 235.0C255.8 239.1 255.3 242.4 255.0 244.8C254.7 247.2 254.4 248.0 254.0 249.6C253.6 251.2 253.0 252.1 252.6 254.5C252.2 256.9 251.4 262.4 251.6 264.3C251.8 266.2 252.7 266.3 253.5 266.0C254.3 265.7 255.4 263.9 256.2 262.5C257.0 261.1 257.8 259.0 258.5 257.5C259.2 256.0 260.1 253.3 260.6 253.6C261.1 253.9 261.3 256.0 261.4 259.4C261.4 262.8 260.9 269.7 260.9 274.1C260.9 278.5 260.9 283.0 261.2 285.8C261.4 288.6 262.0 292.9 262.4 291.0C262.8 289.1 263.0 280.2 263.3 274.1C263.6 268.0 263.7 258.7 264.3 254.5C264.9 250.3 266.0 248.7 266.7 248.7C267.4 248.7 268.0 252.8 268.7 254.5C269.4 256.2 270.3 258.8 271.1 258.9C271.9 259.0 272.7 256.1 273.5 255.0C274.3 253.8 275.6 252.5 276.0 252.0L276.0 250.0C275.7 249.6 274.7 248.6 274.1 247.7C273.5 246.8 273.1 246.9 272.6 244.8C272.1 242.7 271.6 239.1 271.1 235.0C270.6 230.9 270.1 224.3 269.6 220.0C269.1 215.7 268.9 212.9 268.3 209.0C267.7 205.1 266.8 199.7 265.8 196.4C264.8 193.2 262.7 190.7 262.1 189.5Z" fill="#20B2AA"/>
<path d="M251.6 266.5C250.8 266.8 249.7 268.1 249.2 269.2C248.7 270.3 248.5 271.9 248.7 273.0C248.9 274.1 249.7 275.6 250.3 276.0C250.9 276.4 251.7 276.1 252.4 275.6C253.1 275.1 254.1 274.0 254.5 273.0C254.9 272.0 254.8 270.4 254.7 269.5C254.6 268.6 254.3 267.8 253.8 267.3C253.3 266.8 252.4 266.2 251.6 266.5Z" fill="#20B2AA"/>
<path d="M134.3 132.0C133.3 132.0 132.3 136.1 131.5 138.5C130.7 140.9 130.2 142.5 129.6 146.4C128.9 150.3 128.4 154.5 127.6 162.0C126.8 169.5 125.8 181.2 124.9 191.3C124.0 201.4 123.3 212.1 122.4 222.7C121.5 233.3 119.8 247.5 119.4 255.0C119.0 262.5 119.6 263.4 120.0 267.6C120.4 271.8 120.9 277.2 121.9 280.2C123.0 283.2 124.9 284.4 126.3 285.8C127.7 287.2 128.9 288.8 130.1 288.7C131.2 288.6 132.3 286.6 133.2 285.2C134.1 283.8 134.8 283.1 135.7 280.2C136.6 277.3 138.0 271.8 138.8 267.6C139.6 263.4 140.3 261.3 140.7 255.0C141.1 248.7 141.1 240.6 141.3 230.0C141.6 219.4 142.1 202.6 142.2 191.3C142.3 180.0 142.2 169.5 141.7 162.0C141.2 154.5 139.7 150.3 139.0 146.4C138.3 142.5 138.3 140.9 137.5 138.5C136.7 136.1 135.3 132.0 134.3 132.0Z" fill="#BCEE68"/>
<path d="M190.2 151.6C188.9 151.0 188.1 153.1 187.4 154.5C186.7 155.9 186.4 155.5 186.2 160.0C186.0 164.5 185.9 175.1 186.2 181.3C186.5 187.5 187.4 186.6 187.8 197.0C188.2 207.4 188.7 234.9 188.6 244.0C188.5 253.1 187.3 247.5 187.1 251.3C186.8 255.1 186.8 262.6 187.1 267.0C187.3 271.4 187.4 275.1 188.6 278.0C189.8 280.9 192.1 282.6 194.1 284.3C196.1 286.0 198.2 287.8 200.4 288.2C202.6 288.6 205.7 287.5 207.4 286.6C209.1 285.7 209.8 286.0 210.6 282.7C211.4 279.4 211.8 273.4 212.1 267.0C212.3 260.6 212.4 253.1 212.1 244.0C211.8 234.9 210.7 220.5 210.2 212.7C209.7 204.9 209.6 202.2 209.0 197.0C208.4 191.8 207.5 186.0 206.6 181.3C205.7 176.6 204.8 171.8 203.5 168.8C202.2 165.8 200.2 165.1 198.8 163.3C197.4 161.5 196.3 159.8 194.9 157.8C193.5 155.9 191.4 152.2 190.2 151.6Z" fill="#BCEE68"/>
<path d="M249.6 269.6L253.4 269.2L253.6 273.2L249.8 273.6Z" fill="#BCEE68"/>
<path d="M256.6 251.6L257.0 253.5L254.3 262.3L253.0 262.3L253.6 258.0Z" fill="#BCEE68"/>
<path d="M266.7 248.7L268.7 254.5L271.1 258.9L270.6 264.3L269.2 270.2L267.2 276.0L265.3 281.9L264.3 287.7L263.6 291.0L262.2 290.2L262.4 283.8L263.3 274.1L264.3 260.0L264.3 254.5Z" fill="#BCEE68"/>
<path d="M272.6 253.8L276.0 249.0L276.0 259.5L272.8 259.0Z" fill="#BCEE68"/>
<path d="M269.4 268.8L270.9 268.7L270.8 271.8L269.2 271.9Z" fill="#FFA500"/>
<path d="M266.2 279.4L267.7 279.4L267.3 285.8L265.8 285.8Z" fill="#FFA500"/>
<path d="M276.0 259.5L271.6 259.3L270.8 264.3L270.9 268.6L269.3 271.9L267.6 276.5L267.7 279.4L267.3 285.8L265.4 285.8L264.6 288.0L263.8 291.0L263.8 295.0L276.0 295.0Z" fill="#FFFFFF"/>
<path d="M222.4 290.9L262.0 290.9L262.0 295.0L222.4 295.0Z" fill="#FFFFFF"/>
<path d="M77.8 291.0L87.6 291.0L87.6 295.0L77.8 295.0Z" fill="#FFFFFF"/>
</g>
<rect x="53.4" y="71.1" width="221.49999999999997" height="221.6" fill="none" stroke="#000" stroke-width="1.3"/>
<path d="M88.3 71.1v-6.7M88.3 292.7v6.7M126.1 71.1v-6.7M126.1 292.7v6.7M163.9 71.1v-6.7M163.9 292.7v6.7M201.7 71.1v-6.7M201.7 292.7v6.7M239.5 71.1v-6.7M239.5 292.7v6.7M53.4 71.1h-6.4M53.4 110.1h-6.4M53.4 137.8h-6.4M53.4 159.3h-6.4M53.4 176.8h-6.4M53.4 204.5h-6.4M53.4 226.0h-6.4M53.4 258.4h-6.4M53.4 277.1h-6.4M53.4 292.7h-6.4M274.9 75.2h6.0M274.9 134.7h6.0M274.9 193.5h6.0M274.9 246.5h6.0" stroke="#000" stroke-width="1.1" fill="none"/>
<path d="M63.1 71.1v-3.4M63.1 292.7v3.4M75.7 71.1v-3.4M75.7 292.7v3.4M100.9 71.1v-3.4M100.9 292.7v3.4M113.5 71.1v-3.4M113.5 292.7v3.4M138.7 71.1v-3.4M138.7 292.7v3.4M151.3 71.1v-3.4M151.3 292.7v3.4M176.5 71.1v-3.4M176.5 292.7v3.4M189.1 71.1v-3.4M189.1 292.7v3.4M214.3 71.1v-3.4M214.3 292.7v3.4M226.9 71.1v-3.4M226.9 292.7v3.4M252.1 71.1v-3.4M252.1 292.7v3.4M264.7 71.1v-3.4M264.7 292.7v3.4" stroke="#000" stroke-width="0.6" fill="none"/>
<text x="42.0" y="74.7" font-family='"Liberation Sans", sans-serif' font-size="9.8" font-weight="normal" text-anchor="end" textLength="15.9" lengthAdjust="spacingAndGlyphs" stroke="#1a1a1a" stroke-width="0.3">100</text>
<text x="42.0" y="113.7" font-family='"Liberation Sans", sans-serif' font-size="9.8" font-weight="normal" text-anchor="end" textLength="15.9" lengthAdjust="spacingAndGlyphs" stroke="#1a1a1a" stroke-width="0.3">150</text>
<text x="42.0" y="141.4" font-family='"Liberation Sans", sans-serif' font-size="9.8" font-weight="normal" text-anchor="end" textLength="15.9" lengthAdjust="spacingAndGlyphs" stroke="#1a1a1a" stroke-width="0.3">200</text>
<text x="42.0" y="162.9" font-family='"Liberation Sans", sans-serif' font-size="9.8" font-weight="normal" text-anchor="end" textLength="15.9" lengthAdjust="spacingAndGlyphs" stroke="#1a1a1a" stroke-width="0.3">250</text>
<text x="42.0" y="180.4" font-family='"Liberation Sans", sans-serif' font-size="9.8" font-weight="normal" text-anchor="end" textLength="15.9" lengthAdjust="spacingAndGlyphs" stroke="#1a1a1a" stroke-width="0.3">300</text>
<text x="42.0" y="208.1" font-family='"Liberation Sans", sans-serif' font-size="9.8" font-weight="normal" text-anchor="end" textLength="15.9" lengthAdjust="spacingAndGlyphs" stroke="#1a1a1a" stroke-width="0.3">400</text>
<text x="42.0" y="229.6" font-family='"Liberation Sans", sans-serif' font-size="9.8" font-weight="normal" text-anchor="end" textLength="15.9" lengthAdjust="spacingAndGlyphs" stroke="#1a1a1a" stroke-width="0.3">500</text>
<text x="42.0" y="262.0" font-family='"Liberation Sans", sans-serif' font-size="9.8" font-weight="normal" text-anchor="end" textLength="15.9" lengthAdjust="spacingAndGlyphs" stroke="#1a1a1a" stroke-width="0.3">700</text>
<text x="42.0" y="280.7" font-family='"Liberation Sans", sans-serif' font-size="9.8" font-weight="normal" text-anchor="end" textLength="15.9" lengthAdjust="spacingAndGlyphs" stroke="#1a1a1a" stroke-width="0.3">850</text>
<text x="42.0" y="296.3" font-family='"Liberation Sans", sans-serif' font-size="9.8" font-weight="normal" text-anchor="end" textLength="21.2" lengthAdjust="spacingAndGlyphs" stroke="#1a1a1a" stroke-width="0.3">1000</text>
<text x="286.0" y="78.6" font-family='"Liberation Sans", sans-serif' font-size="9.0" font-weight="normal" text-anchor="start" textLength="10.0" lengthAdjust="spacingAndGlyphs" stroke="#1a1a1a" stroke-width="0.15">16</text>
<text x="286.0" y="138.1" font-family='"Liberation Sans", sans-serif' font-size="9.0" font-weight="normal" text-anchor="start" textLength="10.0" lengthAdjust="spacingAndGlyphs" stroke="#1a1a1a" stroke-width="0.15">12</text>
<text x="286.0" y="196.9" font-family='"Liberation Sans", sans-serif' font-size="9.0" font-weight="normal" text-anchor="start" textLength="5.0" lengthAdjust="spacingAndGlyphs" stroke="#1a1a1a" stroke-width="0.15">8</text>
<text x="286.0" y="249.9" font-family='"Liberation Sans", sans-serif' font-size="9.0" font-weight="normal" text-anchor="start" textLength="5.0" lengthAdjust="spacingAndGlyphs" stroke="#1a1a1a" stroke-width="0.15">4</text>
<text x="79.6" y="311.3" font-family='"Liberation Sans", sans-serif' font-size="9.8" font-weight="normal" text-anchor="start" textLength="17.4" lengthAdjust="spacingAndGlyphs" stroke="#1a1a1a" stroke-width="0.3">60N</text>
<text x="117.4" y="311.3" font-family='"Liberation Sans", sans-serif' font-size="9.8" font-weight="normal" text-anchor="start" textLength="17.4" lengthAdjust="spacingAndGlyphs" stroke="#1a1a1a" stroke-width="0.3">30N</text>
<text x="161.2" y="311.3" font-family='"Liberation Sans", sans-serif' font-size="9.8" font-weight="normal" text-anchor="start" textLength="5.4" lengthAdjust="spacingAndGlyphs" stroke="#1a1a1a" stroke-width="0.3">0</text>
<text x="193.0" y="311.3" font-family='"Liberation Sans", sans-serif' font-size="9.8" font-weight="normal" text-anchor="start" textLength="17.4" lengthAdjust="spacingAndGlyphs" stroke="#1a1a1a" stroke-width="0.3">30S</text>
<text x="230.8" y="311.3" font-family='"Liberation Sans", sans-serif' font-size="9.8" font-weight="normal" text-anchor="start" textLength="17.4" lengthAdjust="spacingAndGlyphs" stroke="#1a1a1a" stroke-width="0.3">60S</text>
<text transform="translate(87.9,41.5) scale(1.2,1)" font-family='"Liberation Serif", serif' font-size="14.6" font-weight="normal" textLength="127.0" lengthAdjust="spacing">b30.004 (yrs 50−74)</text>
<text transform="translate(53.6,61.4) scale(1.2,1)" font-family='"Liberation Serif", serif' font-size="13.4" font-weight="normal" textLength="147.1" lengthAdjust="spacing">Vertical pressure velocity</text>
<text transform="translate(221.4,61.4) scale(1.2,1)" font-family='"Liberation Serif", serif' font-size="13.4" font-weight="normal" textLength="44.6" lengthAdjust="spacing">mb/day</text>
<text transform="translate(12,236) rotate(-90) scale(1.15,1)" font-family='"Liberation Serif", serif' font-size="14.8" textLength="93.9" lengthAdjust="spacing">Pressure (mb)</text>
<text transform="translate(313.5,226) rotate(-90) scale(1.15,1)" font-family='"Liberation Serif", serif' font-size="14.8" textLength="78.3" lengthAdjust="spacing">Height (km)</text>
</g>
<g transform="translate(160.7,354.3)">
<clipPath id="c3"><rect x="53.4" y="71.1" width="221.49999999999997" height="221.6"/></clipPath>
<g clip-path="url(#c3)"><rect x="53.4" y="71.1" width="221.49999999999997" height="221.6" fill="#F5E6BE"/>
<path d="M50.0 69.0L78.6 69.0C78.6 71.4 78.6 78.4 78.5 83.4C78.4 88.4 78.4 93.8 78.2 99.0C78.0 104.2 77.6 109.5 77.3 114.7C77.0 119.9 76.6 125.2 76.2 130.4C75.8 135.6 75.4 140.9 75.1 146.1C74.8 151.3 74.2 156.8 74.1 161.7C74.0 166.6 74.4 170.5 74.6 175.4C74.8 180.3 75.0 185.8 75.1 191.0C75.2 196.2 75.2 201.5 75.1 206.7C75.0 211.9 74.8 217.7 74.6 222.4C74.4 227.1 74.3 229.6 74.1 235.0C73.9 240.4 73.7 249.4 73.5 254.8C73.3 260.2 73.2 264.2 72.9 267.3C72.6 270.4 72.4 271.5 71.9 273.6C71.4 275.7 70.7 277.8 70.1 279.9C69.5 282.0 69.0 283.6 68.5 286.1C68.0 288.6 67.2 293.5 67.0 295.0L50.0 295.0Z" fill="#96BE32"/>
<path d="M90.8 69.0C90.6 71.4 90.0 78.4 89.5 83.4C89.0 88.4 88.3 93.8 87.9 99.0C87.5 104.2 87.2 109.5 87.1 114.7C87.0 119.9 86.8 125.2 87.1 130.4C87.4 135.6 88.2 140.9 88.7 146.1C89.2 151.3 89.5 156.8 89.8 161.7C90.1 166.6 90.4 170.5 90.7 175.4C91.0 180.3 91.5 185.8 91.8 191.0C92.1 196.2 92.3 201.5 92.6 206.7C92.9 211.9 93.2 217.2 93.4 222.4C93.7 227.6 93.8 231.6 94.1 238.0C94.4 244.4 95.2 257.2 95.4 261.0L95.4 261.0C95.6 257.2 96.5 244.4 96.8 238.0C97.1 231.6 97.2 227.6 97.3 222.4C97.4 217.2 97.4 211.9 97.6 206.7C97.8 201.5 98.2 196.2 98.6 191.0C98.9 185.8 99.3 180.3 99.7 175.4C100.1 170.5 100.3 166.6 100.8 161.7C101.3 156.8 102.2 151.3 102.8 146.1C103.4 140.9 103.8 135.6 104.4 130.4C105.1 125.2 106.1 119.9 106.7 114.7C107.3 109.5 107.9 104.2 108.3 99.0C108.7 93.8 108.9 88.4 109.1 83.4C109.3 78.4 109.4 71.4 109.5 69.0Z" fill="#96BE32"/>
<path d="M120.0 69.0C120.1 71.4 120.3 78.4 120.5 83.4C120.7 88.4 120.9 93.8 121.1 99.0C121.3 104.2 121.4 109.5 121.6 114.7C121.8 119.9 122.0 125.2 122.1 130.4C122.2 135.6 122.4 141.2 122.4 146.1C122.4 151.0 122.4 154.8 122.1 159.7C121.8 164.6 121.3 170.2 120.8 175.4C120.3 180.6 119.8 185.8 119.3 191.0C118.8 196.2 118.1 201.5 117.7 206.7C117.3 211.9 117.1 217.7 116.9 222.4C116.7 227.1 116.6 229.6 116.4 235.0C116.2 240.4 115.9 249.4 116.0 254.8C116.1 260.2 116.8 263.1 117.2 267.3C117.6 271.5 118.1 275.3 118.5 279.9C118.9 284.5 119.6 292.5 119.8 295.0L157.3 295.0C157.4 290.4 157.5 274.0 157.7 267.3C157.8 260.6 158.1 259.4 158.2 254.8C158.3 250.2 158.5 248.0 158.5 240.0C158.5 232.0 158.3 217.5 158.2 206.7C158.1 195.9 158.0 182.7 157.7 175.4C157.4 168.1 156.7 167.9 156.2 163.0C155.7 158.1 155.2 151.5 154.8 146.1C154.5 140.7 154.1 138.2 154.1 130.4C154.1 122.6 154.4 109.2 154.6 99.0C154.8 88.8 155.3 74.0 155.5 69.0Z" fill="#96BE32"/>
<path d="M129.9 101.4L131.0 101.4L131.0 110.8L129.9 110.8Z" fill="#F5E6BE"/>
<path d="M187.3 70.0L193.8 77.4L200.2 70.0Z" fill="#96BE32"/>
<path d="M190.6 125.7C190.0 125.7 188.7 133.5 188.0 138.2C187.3 142.9 186.8 149.6 186.4 153.9C186.1 158.2 185.7 161.2 185.9 164.0C186.1 166.8 186.8 171.0 187.5 170.7C188.2 170.4 189.6 164.8 190.2 162.0C190.8 159.2 190.8 157.9 191.1 153.9C191.3 149.9 191.8 142.9 191.7 138.2C191.6 133.5 191.2 125.7 190.6 125.7Z" fill="#96BE32"/>
<path d="M225.4 69.0C224.8 70.9 223.1 76.2 221.9 80.2C220.8 84.2 219.6 88.6 218.5 92.8C217.4 97.0 216.5 101.1 215.6 105.3C214.7 109.5 213.5 114.8 212.8 117.9C212.1 121.0 211.9 122.0 211.6 124.1C211.3 126.2 211.2 127.3 211.0 130.4C210.8 133.5 210.7 136.7 210.6 142.9C210.5 149.1 210.3 162.0 210.2 167.7C210.1 173.4 210.0 170.8 210.1 177.3C210.2 183.8 210.6 199.6 210.6 206.7C210.6 213.8 210.4 214.0 210.3 219.7C210.2 225.4 210.2 234.8 210.1 241.0C210.0 247.2 210.1 251.5 209.8 256.7C209.5 261.9 209.0 267.2 208.5 272.4C208.0 277.6 207.3 284.3 206.9 288.1C206.5 291.9 206.2 293.9 206.0 295.0L231.0 295.0C231.2 293.9 231.6 291.9 232.0 288.1C232.4 284.3 233.3 277.2 233.6 272.0C233.9 266.8 233.6 261.9 233.6 256.7C233.6 251.5 233.4 248.8 233.3 241.0C233.2 233.2 233.3 220.3 233.3 209.7C233.3 199.1 233.1 186.9 233.2 177.3C233.3 167.7 233.6 158.5 233.9 152.2C234.2 145.9 234.6 143.3 234.8 139.7C235.1 136.1 234.9 134.0 235.4 130.4C235.9 126.8 237.1 122.1 237.9 117.9C238.7 113.7 239.7 109.5 240.4 105.3C241.1 101.1 241.7 97.0 242.3 92.8C242.9 88.6 243.4 84.2 244.2 80.2C245.0 76.2 246.4 70.9 246.9 69.0Z" fill="#96BE32"/>
<path d="M257.4 183.0C256.8 183.0 255.4 186.7 254.8 189.9C254.2 193.1 253.9 197.4 253.6 202.4C253.3 207.4 253.4 213.3 253.2 219.7C252.9 226.1 252.5 234.8 252.1 241.0C251.7 247.2 251.3 252.0 250.8 256.7C250.3 261.4 249.4 265.9 249.3 269.3C249.2 272.7 250.0 276.5 250.3 277.0C250.6 277.5 250.7 274.5 251.1 272.4C251.5 270.3 252.0 267.2 252.7 264.6C253.4 262.0 254.6 259.3 255.5 256.7C256.4 254.1 257.4 251.5 257.9 248.9C258.4 246.3 258.5 245.9 258.7 241.0C258.9 236.1 258.9 225.7 259.0 219.7C259.1 213.7 259.1 210.0 259.0 205.0C258.9 200.0 258.5 193.6 258.2 189.9C257.9 186.2 258.0 183.0 257.4 183.0Z" fill="#96BE32"/>
<path d="M271.8 105.9C271.4 107.9 270.2 113.8 269.5 117.9C268.8 122.0 268.0 126.2 267.4 130.4C266.8 134.6 266.4 139.3 266.1 142.9C265.8 146.5 265.8 148.5 265.5 152.2C265.2 155.8 264.7 160.6 264.3 164.8C263.9 169.0 263.3 173.1 263.0 177.3C262.7 181.5 262.5 182.8 262.4 189.9C262.3 197.0 262.4 211.2 262.4 219.7C262.4 228.2 262.7 234.8 262.6 241.0C262.6 247.2 262.3 251.5 262.1 256.7C261.9 261.9 261.6 266.9 261.5 272.4C261.4 277.9 261.4 285.8 261.5 289.6C261.6 293.4 261.9 294.1 262.0 295.0L267.0 295.0L276.0 256.0L276.0 236.0L273.8 224.0L273.8 180.0L273.8 170.0C273.8 165.5 273.8 149.5 273.7 142.9C273.6 136.3 273.4 134.6 273.3 130.4C273.2 126.2 273.1 122.0 272.8 117.9C272.6 113.8 272.0 107.9 271.8 105.9Z" fill="#96BE32"/>
<path d="M77.6 261.0C77.0 262.1 76.0 270.0 75.6 273.6C75.2 277.2 75.1 279.9 75.4 282.4C75.7 284.9 76.8 288.2 77.6 288.6C78.4 289.0 79.6 286.3 80.1 284.9C80.6 283.4 80.5 281.8 80.4 279.9C80.4 278.0 80.0 275.7 79.8 273.6C79.5 271.5 79.3 269.4 78.9 267.3C78.5 265.2 78.1 259.9 77.6 261.0Z" fill="#96BE32"/>
<path d="M176.1 295.0L177.2 290.0L179.0 290.4L179.9 295.0Z" fill="#96BE32"/>
<path d="M55.3 291.1L56.5 286.8L57.6 291.1Z" fill="#F5E6BE"/>
<path d="M148.5 121.0C147.7 121.0 146.0 127.5 145.1 130.4C144.2 133.3 143.5 135.3 142.8 138.2C142.2 141.1 142.1 145.5 141.2 147.6C140.3 149.7 138.4 148.5 137.3 150.8C136.2 153.2 135.6 157.6 134.9 161.7C134.2 165.8 133.5 170.5 133.1 175.4C132.7 180.3 132.7 185.8 132.6 191.0C132.5 196.2 132.7 201.5 132.6 206.7C132.5 211.9 131.9 218.2 132.1 222.4C132.2 226.6 133.3 228.7 133.5 232.0C133.7 235.3 133.6 238.2 133.5 242.0C133.4 245.8 133.3 251.0 132.9 254.8C132.5 258.6 131.5 262.3 131.0 264.8C130.5 267.3 129.8 267.3 129.7 269.8C129.6 272.3 130.1 277.4 130.4 279.9C130.7 282.4 131.2 285.3 131.6 284.9C132.0 284.5 132.3 278.1 132.9 277.3C133.5 276.5 134.2 278.6 135.4 279.9C136.7 281.2 138.9 283.5 140.4 284.9C141.9 286.2 143.1 288.0 144.2 288.0C145.2 288.0 145.7 285.5 146.7 284.9C147.7 284.3 149.4 285.0 150.4 284.2C151.4 283.4 152.3 282.7 152.9 279.9C153.5 277.1 153.8 271.5 154.2 267.3C154.6 263.1 155.0 260.2 155.2 254.8C155.4 249.4 155.4 243.0 155.4 235.0C155.4 227.0 155.3 216.6 155.1 206.7C154.9 196.8 154.5 183.2 154.1 175.4C153.7 167.6 153.2 164.9 152.8 160.0C152.4 155.1 152.0 151.0 151.5 146.1C151.0 141.2 150.4 134.6 149.9 130.4C149.4 126.2 149.3 121.0 148.5 121.0Z" fill="#BCEE68"/>
<path d="M225.0 201.8C224.3 201.8 223.0 205.7 222.2 208.7C221.4 211.7 220.8 216.9 220.4 219.7C220.0 222.5 220.1 221.8 219.8 225.4C219.5 229.0 219.0 235.8 218.7 241.0C218.4 246.2 218.3 251.5 218.2 256.7C218.1 261.9 217.8 268.5 217.9 272.4C218.0 276.3 217.9 277.7 218.7 280.2C219.5 282.7 221.2 286.5 222.6 287.3C224.0 288.1 226.1 287.4 227.3 284.9C228.5 282.4 229.2 277.1 229.7 272.4C230.2 267.7 230.1 261.9 230.1 256.7C230.1 251.5 230.0 246.2 229.7 241.0C229.4 235.8 228.5 229.0 228.1 225.4C227.7 221.8 227.6 222.5 227.3 219.7C227.1 216.9 227.0 211.7 226.6 208.7C226.2 205.7 225.7 201.8 225.0 201.8Z" fill="#BCEE68"/>
<path d="M121.5 248.5C120.9 249.8 120.1 254.4 119.9 258.0C119.7 261.6 119.7 266.7 120.2 270.0C120.7 273.3 122.0 278.0 122.8 278.0C123.6 278.0 124.4 273.3 124.8 270.0C125.2 266.7 125.1 261.3 124.9 258.0C124.7 254.7 124.0 251.6 123.4 250.0C122.8 248.4 122.1 247.2 121.5 248.5Z" fill="#BCEE68"/>
<path d="M127.2 240.4C126.7 240.9 125.6 244.0 125.2 246.0C124.8 248.0 124.5 251.3 124.6 252.5C124.7 253.7 125.5 253.7 126.0 252.9C126.5 252.2 127.4 249.7 127.8 248.0C128.2 246.3 128.3 244.3 128.2 243.0C128.1 241.7 127.7 239.9 127.2 240.4Z" fill="#BCEE68"/>
<path d="M64.3 260.4C63.9 260.9 63.4 265.2 63.3 268.0C63.2 270.8 63.2 276.6 63.6 277.3C64.0 278.0 65.2 274.1 65.6 272.0C66.0 269.9 66.1 266.9 65.9 265.0C65.7 263.1 64.7 259.9 64.3 260.4Z" fill="#BCEE68"/>
<path d="M148.8 176.2C148.3 177.5 147.6 185.9 147.2 191.0C146.8 196.1 146.5 201.5 146.4 206.7C146.3 211.9 146.6 217.7 146.8 222.4C147.1 227.1 147.6 231.8 147.9 234.9C148.2 238.0 148.3 241.2 148.9 241.2C149.5 241.2 150.9 238.0 151.5 234.9C152.1 231.8 152.4 227.1 152.6 222.4C152.8 217.7 152.8 211.9 152.7 206.7C152.6 201.5 152.3 194.9 151.9 191.0C151.5 187.1 150.9 185.7 150.4 183.2C149.9 180.7 149.3 174.9 148.8 176.2Z" fill="#20B2AA"/>
<path d="M169.5 139.5C168.8 141.0 168.1 149.2 167.6 153.9C167.1 158.6 166.7 164.1 166.4 167.7C166.1 171.3 165.8 168.9 165.6 175.4C165.4 181.9 165.0 196.2 165.1 206.7C165.2 217.1 165.6 230.1 166.0 238.1C166.4 246.1 167.1 249.9 167.4 254.8C167.7 259.7 167.6 263.1 167.7 267.3C167.8 271.5 167.6 276.4 168.0 279.9C168.4 283.3 169.0 287.2 169.9 288.0C170.8 288.8 172.7 286.2 173.6 284.9C174.5 283.5 174.7 281.4 175.5 279.9C176.3 278.4 177.3 277.2 178.6 276.1C179.8 275.1 181.9 275.1 183.0 273.6C184.1 272.1 184.6 270.1 184.9 267.3C185.2 264.5 184.8 261.1 184.7 256.7C184.6 252.3 184.4 244.6 184.2 241.0C183.9 237.4 183.7 238.1 183.2 235.0C182.7 231.9 181.7 227.1 181.2 222.4C180.7 217.7 180.3 214.5 180.1 206.7C179.8 198.9 180.0 182.8 179.7 175.4C179.4 168.0 179.1 165.6 178.4 162.0C177.8 158.4 176.9 156.7 175.8 153.9C174.7 151.1 173.1 147.4 172.0 145.0C170.9 142.6 170.2 138.0 169.5 139.5Z" fill="#DEB887"/>
<path d="M242.9 198.0C242.1 198.0 241.0 205.1 240.4 208.7C239.8 212.3 239.8 214.3 239.4 219.7C239.1 225.1 238.4 234.8 238.3 241.0C238.2 247.2 238.3 251.5 238.6 256.7C238.9 261.9 239.3 268.5 239.9 272.4C240.5 276.3 241.4 278.1 242.2 280.2C243.0 282.3 243.4 283.6 244.6 284.9C245.8 286.2 247.0 287.3 249.3 288.1C251.7 288.9 256.7 289.8 258.7 289.8C260.7 289.8 261.0 289.7 261.3 288.1C261.6 286.5 260.9 282.8 260.6 280.2C260.3 277.6 260.0 275.1 259.5 272.4C259.0 269.7 258.4 265.5 257.8 264.0C257.2 262.5 256.5 262.1 256.0 263.5C255.5 264.9 255.1 269.7 254.8 272.4C254.5 275.1 254.6 277.9 254.0 279.5C253.4 281.1 252.2 282.4 251.5 282.0C250.8 281.6 250.4 278.7 250.0 277.1C249.6 275.5 249.4 275.8 249.3 272.4C249.2 269.0 249.6 261.9 249.6 256.7C249.6 251.5 249.5 246.2 249.3 241.0C249.1 235.8 248.9 229.0 248.5 225.4C248.1 221.8 247.2 222.5 246.7 219.7C246.2 216.9 246.0 212.3 245.4 208.7C244.8 205.1 243.7 198.0 242.9 198.0Z" fill="#DEB887"/>
<path d="M247.5 278.0L250.5 277.5L251.0 281.5L248.0 282.5Z" fill="#F5E6BE"/>
<path d="M246.5 280.8L249.5 280.2L249.6 281.2L246.6 281.8Z" fill="#96BE32"/>
<path d="M169.8 170.4C169.3 171.7 168.9 177.1 168.7 183.2C168.5 189.2 168.3 198.9 168.4 206.7C168.5 214.5 168.5 224.2 169.2 230.2C169.9 236.2 171.8 242.8 172.6 242.8C173.4 242.8 173.6 236.2 173.9 230.2C174.2 224.2 174.3 214.5 174.2 206.7C174.1 198.9 173.8 188.4 173.4 183.2C173.0 178.0 172.4 177.5 171.8 175.4C171.2 173.3 170.3 169.1 169.8 170.4Z" fill="#FFE100"/>
<path d="M172.9 254.8C172.5 254.8 171.8 260.2 171.8 263.0C171.8 265.8 172.3 271.7 172.7 271.7C173.1 271.7 174.1 265.8 174.1 263.0C174.1 260.2 173.3 254.8 172.9 254.8Z" fill="#FFE100"/>
<path d="M267.9 246.5C267.2 247.4 266.4 252.7 265.8 256.0C265.2 259.3 264.6 262.9 264.2 266.4C263.8 269.9 263.4 273.1 263.1 277.0C262.8 280.9 262.3 287.8 262.6 290.0C262.9 292.2 264.3 292.0 265.0 290.0C265.7 288.0 266.3 281.7 267.0 278.0C267.7 274.3 268.2 270.7 269.0 268.0C269.8 265.3 271.1 264.0 271.5 262.0C271.9 260.0 271.9 257.9 271.6 256.0C271.4 254.1 270.6 252.3 270.0 250.7C269.4 249.1 268.6 245.6 267.9 246.5Z" fill="#BCEE68"/>
<path d="M266.0 268.0L268.0 268.0L266.8 284.0L265.2 288.0L264.4 288.0Z" fill="#B0E0E6"/>
<path d="M268.0 261.2L271.4 263.5L271.3 266.4L268.5 267.0L266.8 270.0L266.3 280.0L264.9 282.0L264.7 272.0L265.8 265.0Z" fill="#20B2AA"/>
<path d="M272.8 258.8L276.0 255.5L276.0 258.8Z" fill="#20B2AA"/>
<path d="M268.9 267.2L271.6 266.8L271.6 271.4L268.8 271.4Z" fill="#4169E1"/>
<path d="M270.0 268.0L271.6 267.5L271.6 271.4L270.0 271.4Z" fill="#0000CD"/>
<path d="M266.6 275.9L268.5 273.5L268.5 285.3L265.4 285.8L265.3 281.0Z" fill="#4169E1"/>
<path d="M267.2 277.0L268.5 276.0L268.5 285.0L266.6 285.3Z" fill="#0000CD"/>
<path d="M276.0 258.6L271.6 258.6L271.6 271.5L268.6 271.5L268.6 285.4L265.2 286.2L264.5 291.0L264.5 295.0L276.0 295.0Z" fill="#FFFFFF"/>
<path d="M222.4 290.9L262.0 290.9L262.0 295.0L222.4 295.0Z" fill="#FFFFFF"/>
<path d="M78.1 290.6L87.9 290.6L87.9 295.0L78.1 295.0Z" fill="#FFFFFF"/>
</g>
<rect x="53.4" y="71.1" width="221.49999999999997" height="221.6" fill="none" stroke="#000" stroke-width="1.3"/>
<path d="M88.3 71.1v-6.7M88.3 292.7v6.7M126.1 71.1v-6.7M126.1 292.7v6.7M163.9 71.1v-6.7M163.9 292.7v6.7M201.7 71.1v-6.7M201.7 292.7v6.7M239.5 71.1v-6.7M239.5 292.7v6.7M53.4 71.1h-6.4M53.4 110.1h-6.4M53.4 137.8h-6.4M53.4 159.3h-6.4M53.4 176.8h-6.4M53.4 204.5h-6.4M53.4 226.0h-6.4M53.4 258.4h-6.4M53.4 277.1h-6.4M53.4 292.7h-6.4M274.9 75.2h6.0M274.9 134.7h6.0M274.9 193.5h6.0M274.9 246.5h6.0" stroke="#000" stroke-width="1.1" fill="none"/>
<path d="M63.1 71.1v-3.4M63.1 292.7v3.4M75.7 71.1v-3.4M75.7 292.7v3.4M100.9 71.1v-3.4M100.9 292.7v3.4M113.5 71.1v-3.4M113.5 292.7v3.4M138.7 71.1v-3.4M138.7 292.7v3.4M151.3 71.1v-3.4M151.3 292.7v3.4M176.5 71.1v-3.4M176.5 292.7v3.4M189.1 71.1v-3.4M189.1 292.7v3.4M214.3 71.1v-3.4M214.3 292.7v3.4M226.9 71.1v-3.4M226.9 292.7v3.4M252.1 71.1v-3.4M252.1 292.7v3.4M264.7 71.1v-3.4M264.7 292.7v3.4" stroke="#000" stroke-width="0.6" fill="none"/>
<text x="42.0" y="74.7" font-family='"Liberation Sans", sans-serif' font-size="9.8" font-weight="normal" text-anchor="end" textLength="15.9" lengthAdjust="spacingAndGlyphs" stroke="#1a1a1a" stroke-width="0.3">100</text>
<text x="42.0" y="113.7" font-family='"Liberation Sans", sans-serif' font-size="9.8" font-weight="normal" text-anchor="end" textLength="15.9" lengthAdjust="spacingAndGlyphs" stroke="#1a1a1a" stroke-width="0.3">150</text>
<text x="42.0" y="141.4" font-family='"Liberation Sans", sans-serif' font-size="9.8" font-weight="normal" text-anchor="end" textLength="15.9" lengthAdjust="spacingAndGlyphs" stroke="#1a1a1a" stroke-width="0.3">200</text>
<text x="42.0" y="162.9" font-family='"Liberation Sans", sans-serif' font-size="9.8" font-weight="normal" text-anchor="end" textLength="15.9" lengthAdjust="spacingAndGlyphs" stroke="#1a1a1a" stroke-width="0.3">250</text>
<text x="42.0" y="180.4" font-family='"Liberation Sans", sans-serif' font-size="9.8" font-weight="normal" text-anchor="end" textLength="15.9" lengthAdjust="spacingAndGlyphs" stroke="#1a1a1a" stroke-width="0.3">300</text>
<text x="42.0" y="208.1" font-family='"Liberation Sans", sans-serif' font-size="9.8" font-weight="normal" text-anchor="end" textLength="15.9" lengthAdjust="spacingAndGlyphs" stroke="#1a1a1a" stroke-width="0.3">400</text>
<text x="42.0" y="229.6" font-family='"Liberation Sans", sans-serif' font-size="9.8" font-weight="normal" text-anchor="end" textLength="15.9" lengthAdjust="spacingAndGlyphs" stroke="#1a1a1a" stroke-width="0.3">500</text>
<text x="42.0" y="262.0" font-family='"Liberation Sans", sans-serif' font-size="9.8" font-weight="normal" text-anchor="end" textLength="15.9" lengthAdjust="spacingAndGlyphs" stroke="#1a1a1a" stroke-width="0.3">700</text>
<text x="42.0" y="280.7" font-family='"Liberation Sans", sans-serif' font-size="9.8" font-weight="normal" text-anchor="end" textLength="15.9" lengthAdjust="spacingAndGlyphs" stroke="#1a1a1a" stroke-width="0.3">850</text>
<text x="42.0" y="296.3" font-family='"Liberation Sans", sans-serif' font-size="9.8" font-weight="normal" text-anchor="end" textLength="21.2" lengthAdjust="spacingAndGlyphs" stroke="#1a1a1a" stroke-width="0.3">1000</text>
<text x="286.0" y="78.6" font-family='"Liberation Sans", sans-serif' font-size="9.0" font-weight="normal" text-anchor="start" textLength="10.0" lengthAdjust="spacingAndGlyphs" stroke="#1a1a1a" stroke-width="0.15">16</text>
<text x="286.0" y="138.1" font-family='"Liberation Sans", sans-serif' font-size="9.0" font-weight="normal" text-anchor="start" textLength="10.0" lengthAdjust="spacingAndGlyphs" stroke="#1a1a1a" stroke-width="0.15">12</text>
<text x="286.0" y="196.9" font-family='"Liberation Sans", sans-serif' font-size="9.0" font-weight="normal" text-anchor="start" textLength="5.0" lengthAdjust="spacingAndGlyphs" stroke="#1a1a1a" stroke-width="0.15">8</text>
<text x="286.0" y="249.9" font-family='"Liberation Sans", sans-serif' font-size="9.0" font-weight="normal" text-anchor="start" textLength="5.0" lengthAdjust="spacingAndGlyphs" stroke="#1a1a1a" stroke-width="0.15">4</text>
<text x="79.6" y="311.3" font-family='"Liberation Sans", sans-serif' font-size="9.8" font-weight="normal" text-anchor="start" textLength="17.4" lengthAdjust="spacingAndGlyphs" stroke="#1a1a1a" stroke-width="0.3">60N</text>
<text x="117.4" y="311.3" font-family='"Liberation Sans", sans-serif' font-size="9.8" font-weight="normal" text-anchor="start" textLength="17.4" lengthAdjust="spacingAndGlyphs" stroke="#1a1a1a" stroke-width="0.3">30N</text>
<text x="161.2" y="311.3" font-family='"Liberation Sans", sans-serif' font-size="9.8" font-weight="normal" text-anchor="start" textLength="5.4" lengthAdjust="spacingAndGlyphs" stroke="#1a1a1a" stroke-width="0.3">0</text>
<text x="193.0" y="311.3" font-family='"Liberation Sans", sans-serif' font-size="9.8" font-weight="normal" text-anchor="start" textLength="17.4" lengthAdjust="spacingAndGlyphs" stroke="#1a1a1a" stroke-width="0.3">30S</text>
<text x="230.8" y="311.3" font-family='"Liberation Sans", sans-serif' font-size="9.8" font-weight="normal" text-anchor="start" textLength="17.4" lengthAdjust="spacingAndGlyphs" stroke="#1a1a1a" stroke-width="0.3">60S</text>
<text transform="translate(86.3,41.5) scale(1.2,1)" font-family='"Liberation Serif", serif' font-size="14.6" font-weight="normal" textLength="130.1" lengthAdjust="spacing">b01.01ibis − b30.004</text>
<text transform="translate(53.6,61.4) scale(1.2,1)" font-family='"Liberation Serif", serif' font-size="13.4" font-weight="normal" textLength="147.1" lengthAdjust="spacing">Vertical pressure velocity</text>
<text transform="translate(221.4,61.4) scale(1.2,1)" font-family='"Liberation Serif", serif' font-size="13.4" font-weight="normal" textLength="44.6" lengthAdjust="spacing">mb/day</text>
<text transform="translate(12,236) rotate(-90) scale(1.15,1)" font-family='"Liberation Serif", serif' font-size="14.8" textLength="93.9" lengthAdjust="spacing">Pressure (mb)</text>
<text transform="translate(313.5,226) rotate(-90) scale(1.15,1)" font-family='"Liberation Serif", serif' font-size="14.8" textLength="78.3" lengthAdjust="spacing">Height (km)</text>
</g>
<text x="78.4" y="322.7" font-family='"Liberation Serif", serif' font-size="11.6" font-weight="normal" text-anchor="start" textLength="19.4" lengthAdjust="spacingAndGlyphs">MIN</text>
<text x="104.7" y="322.7" font-family='"Liberation Serif", serif' font-size="11.6" font-weight="normal" text-anchor="start" textLength="7.5" lengthAdjust="spacingAndGlyphs">=</text>
<text x="119.0" y="322.7" font-family='"Liberation Serif", serif' font-size="11.6" font-weight="normal" text-anchor="start" textLength="39.5" lengthAdjust="spacingAndGlyphs" stroke="#1a1a1a" stroke-width="0.2">−22.56</text>
<text x="171.3" y="322.7" font-family='"Liberation Serif", serif' font-size="11.6" font-weight="normal" text-anchor="start" textLength="22.5" lengthAdjust="spacingAndGlyphs">MAX</text>
<text x="199.9" y="322.7" font-family='"Liberation Serif", serif' font-size="11.6" font-weight="normal" text-anchor="start" textLength="7.5" lengthAdjust="spacingAndGlyphs">=</text>
<text x="251.6" y="322.7" font-family='"Liberation Serif", serif' font-size="11.6" font-weight="normal" text-anchor="end" textLength="32.1" lengthAdjust="spacingAndGlyphs" stroke="#1a1a1a" stroke-width="0.2">60.62</text>
<text x="400.4" y="322.7" font-family='"Liberation Serif", serif' font-size="11.6" font-weight="normal" text-anchor="start" textLength="19.4" lengthAdjust="spacingAndGlyphs">MIN</text>
<text x="426.7" y="322.7" font-family='"Liberation Serif", serif' font-size="11.6" font-weight="normal" text-anchor="start" textLength="7.5" lengthAdjust="spacingAndGlyphs">=</text>
<text x="441.0" y="322.7" font-family='"Liberation Serif", serif' font-size="11.6" font-weight="normal" text-anchor="start" textLength="39.5" lengthAdjust="spacingAndGlyphs" stroke="#1a1a1a" stroke-width="0.2">−23.99</text>
<text x="493.3" y="322.7" font-family='"Liberation Serif", serif' font-size="11.6" font-weight="normal" text-anchor="start" textLength="22.5" lengthAdjust="spacingAndGlyphs">MAX</text>
<text x="521.9" y="322.7" font-family='"Liberation Serif", serif' font-size="11.6" font-weight="normal" text-anchor="start" textLength="7.5" lengthAdjust="spacingAndGlyphs">=</text>
<text x="573.6" y="322.7" font-family='"Liberation Serif", serif' font-size="11.6" font-weight="normal" text-anchor="end" textLength="32.1" lengthAdjust="spacingAndGlyphs" stroke="#1a1a1a" stroke-width="0.2">85.27</text>
<text x="465.0" y="447.6" font-family='"Liberation Serif", serif' font-size="11.6" font-weight="normal" text-anchor="start" textLength="19.4" lengthAdjust="spacingAndGlyphs">MIN</text>
<text x="491.3" y="447.6" font-family='"Liberation Serif", serif' font-size="11.6" font-weight="normal" text-anchor="start" textLength="7.5" lengthAdjust="spacingAndGlyphs">=</text>
<text x="505.6" y="447.6" font-family='"Liberation Serif", serif' font-size="11.6" font-weight="normal" text-anchor="start" textLength="39.5" lengthAdjust="spacingAndGlyphs" stroke="#1a1a1a" stroke-width="0.2">−33.04</text>
<text x="557.9" y="447.6" font-family='"Liberation Serif", serif' font-size="11.6" font-weight="normal" text-anchor="start" textLength="22.5" lengthAdjust="spacingAndGlyphs">MAX</text>
<text x="586.5" y="447.6" font-family='"Liberation Serif", serif' font-size="11.6" font-weight="normal" text-anchor="start" textLength="7.5" lengthAdjust="spacingAndGlyphs">=</text>
<text x="638.2" y="447.6" font-family='"Liberation Serif", serif' font-size="11.6" font-weight="normal" text-anchor="end" textLength="24.0" lengthAdjust="spacingAndGlyphs" stroke="#1a1a1a" stroke-width="0.2">5.02</text>
<rect x="56.30" y="333.5" width="13.47" height="19.1" fill="#9370DB" stroke="#000" stroke-width="0.6"/>
<rect x="69.77" y="333.5" width="13.47" height="19.1" fill="#0000CD" stroke="#000" stroke-width="0.6"/>
<rect x="83.24" y="333.5" width="13.47" height="19.1" fill="#4169E1" stroke="#000" stroke-width="0.6"/>
<rect x="96.71" y="333.5" width="13.47" height="19.1" fill="#7799EE" stroke="#000" stroke-width="0.6"/>
<rect x="110.17" y="333.5" width="13.47" height="19.1" fill="#B0E0E6" stroke="#000" stroke-width="0.6"/>
<rect x="123.64" y="333.5" width="13.47" height="19.1" fill="#20B2AA" stroke="#000" stroke-width="0.6"/>
<rect x="137.11" y="333.5" width="13.47" height="19.1" fill="#BCEE68" stroke="#000" stroke-width="0.6"/>
<rect x="150.58" y="333.5" width="13.47" height="19.1" fill="#96BE32" stroke="#000" stroke-width="0.6"/>
<rect x="164.05" y="333.5" width="13.47" height="19.1" fill="#F5E6BE" stroke="#000" stroke-width="0.6"/>
<rect x="177.52" y="333.5" width="13.47" height="19.1" fill="#DEB887" stroke="#000" stroke-width="0.6"/>
<rect x="190.99" y="333.5" width="13.47" height="19.1" fill="#FFE100" stroke="#000" stroke-width="0.6"/>
<rect x="204.46" y="333.5" width="13.47" height="19.1" fill="#FFA500" stroke="#000" stroke-width="0.6"/>
<rect x="217.93" y="333.5" width="13.47" height="19.1" fill="#FF4500" stroke="#000" stroke-width="0.6"/>
<rect x="231.39" y="333.5" width="13.47" height="19.1" fill="#B22222" stroke="#000" stroke-width="0.6"/>
<rect x="244.86" y="333.5" width="13.47" height="19.1" fill="#FFB6C1" stroke="#000" stroke-width="0.6"/>
<rect x="258.33" y="333.5" width="13.47" height="19.1" fill="#FF1493" stroke="#000" stroke-width="0.6"/>
<text x="70.2" y="365.9" font-family='"Liberation Sans", sans-serif' font-size="10.5" font-weight="normal" text-anchor="middle" textLength="19.5" lengthAdjust="spacingAndGlyphs">−20</text>
<text x="97.1" y="365.9" font-family='"Liberation Sans", sans-serif' font-size="10.5" font-weight="normal" text-anchor="middle" textLength="13.6" lengthAdjust="spacingAndGlyphs">−5</text>
<text x="124.0" y="365.9" font-family='"Liberation Sans", sans-serif' font-size="10.5" font-weight="normal" text-anchor="middle" textLength="5.4" lengthAdjust="spacingAndGlyphs">5</text>
<text x="151.0" y="365.9" font-family='"Liberation Sans", sans-serif' font-size="10.5" font-weight="normal" text-anchor="middle" textLength="11.3" lengthAdjust="spacingAndGlyphs">20</text>
<text x="177.9" y="365.9" font-family='"Liberation Sans", sans-serif' font-size="10.5" font-weight="normal" text-anchor="middle" textLength="11.3" lengthAdjust="spacingAndGlyphs">40</text>
<text x="204.9" y="365.9" font-family='"Liberation Sans", sans-serif' font-size="10.5" font-weight="normal" text-anchor="middle" textLength="11.3" lengthAdjust="spacingAndGlyphs">60</text>
<text x="231.8" y="365.9" font-family='"Liberation Sans", sans-serif' font-size="10.5" font-weight="normal" text-anchor="middle" textLength="17.2" lengthAdjust="spacingAndGlyphs">100</text>
<text x="258.7" y="365.9" font-family='"Liberation Sans", sans-serif' font-size="10.5" font-weight="normal" text-anchor="middle" textLength="17.2" lengthAdjust="spacingAndGlyphs">150</text>
<rect x="378.30" y="333.5" width="13.47" height="19.1" fill="#9370DB" stroke="#000" stroke-width="0.6"/>
<rect x="391.77" y="333.5" width="13.47" height="19.1" fill="#0000CD" stroke="#000" stroke-width="0.6"/>
<rect x="405.24" y="333.5" width="13.47" height="19.1" fill="#4169E1" stroke="#000" stroke-width="0.6"/>
<rect x="418.71" y="333.5" width="13.47" height="19.1" fill="#7799EE" stroke="#000" stroke-width="0.6"/>
<rect x="432.18" y="333.5" width="13.47" height="19.1" fill="#B0E0E6" stroke="#000" stroke-width="0.6"/>
<rect x="445.64" y="333.5" width="13.47" height="19.1" fill="#20B2AA" stroke="#000" stroke-width="0.6"/>
<rect x="459.11" y="333.5" width="13.47" height="19.1" fill="#BCEE68" stroke="#000" stroke-width="0.6"/>
<rect x="472.58" y="333.5" width="13.47" height="19.1" fill="#96BE32" stroke="#000" stroke-width="0.6"/>
<rect x="486.05" y="333.5" width="13.47" height="19.1" fill="#F5E6BE" stroke="#000" stroke-width="0.6"/>
<rect x="499.52" y="333.5" width="13.47" height="19.1" fill="#DEB887" stroke="#000" stroke-width="0.6"/>
<rect x="512.99" y="333.5" width="13.47" height="19.1" fill="#FFE100" stroke="#000" stroke-width="0.6"/>
<rect x="526.46" y="333.5" width="13.47" height="19.1" fill="#FFA500" stroke="#000" stroke-width="0.6"/>
<rect x="539.92" y="333.5" width="13.47" height="19.1" fill="#FF4500" stroke="#000" stroke-width="0.6"/>
<rect x="553.39" y="333.5" width="13.47" height="19.1" fill="#B22222" stroke="#000" stroke-width="0.6"/>
<rect x="566.86" y="333.5" width="13.47" height="19.1" fill="#FFB6C1" stroke="#000" stroke-width="0.6"/>
<rect x="580.33" y="333.5" width="13.47" height="19.1" fill="#FF1493" stroke="#000" stroke-width="0.6"/>
<text x="392.2" y="365.9" font-family='"Liberation Sans", sans-serif' font-size="10.5" font-weight="normal" text-anchor="middle" textLength="19.5" lengthAdjust="spacingAndGlyphs">−20</text>
<text x="419.1" y="365.9" font-family='"Liberation Sans", sans-serif' font-size="10.5" font-weight="normal" text-anchor="middle" textLength="13.6" lengthAdjust="spacingAndGlyphs">−5</text>
<text x="446.0" y="365.9" font-family='"Liberation Sans", sans-serif' font-size="10.5" font-weight="normal" text-anchor="middle" textLength="5.4" lengthAdjust="spacingAndGlyphs">5</text>
<text x="473.0" y="365.9" font-family='"Liberation Sans", sans-serif' font-size="10.5" font-weight="normal" text-anchor="middle" textLength="11.3" lengthAdjust="spacingAndGlyphs">20</text>
<text x="499.9" y="365.9" font-family='"Liberation Sans", sans-serif' font-size="10.5" font-weight="normal" text-anchor="middle" textLength="11.3" lengthAdjust="spacingAndGlyphs">40</text>
<text x="526.9" y="365.9" font-family='"Liberation Sans", sans-serif' font-size="10.5" font-weight="normal" text-anchor="middle" textLength="11.3" lengthAdjust="spacingAndGlyphs">60</text>
<text x="553.8" y="365.9" font-family='"Liberation Sans", sans-serif' font-size="10.5" font-weight="normal" text-anchor="middle" textLength="17.2" lengthAdjust="spacingAndGlyphs">100</text>
<text x="580.7" y="365.9" font-family='"Liberation Sans", sans-serif' font-size="10.5" font-weight="normal" text-anchor="middle" textLength="17.2" lengthAdjust="spacingAndGlyphs">150</text>
<rect x="523.4" y="466.30" width="31.2" height="11.15" fill="#FF1493" stroke="#000" stroke-width="0.6"/>
<rect x="523.4" y="477.45" width="31.2" height="11.15" fill="#FFB6C1" stroke="#000" stroke-width="0.6"/>
<rect x="523.4" y="488.60" width="31.2" height="11.15" fill="#B22222" stroke="#000" stroke-width="0.6"/>
<rect x="523.4" y="499.75" width="31.2" height="11.15" fill="#FF4500" stroke="#000" stroke-width="0.6"/>
<rect x="523.4" y="510.90" width="31.2" height="11.15" fill="#FFA500" stroke="#000" stroke-width="0.6"/>
<rect x="523.4" y="522.05" width="31.2" height="11.15" fill="#FFE100" stroke="#000" stroke-width="0.6"/>
<rect x="523.4" y="533.20" width="31.2" height="11.15" fill="#DEB887" stroke="#000" stroke-width="0.6"/>
<rect x="523.4" y="544.35" width="31.2" height="11.15" fill="#F5E6BE" stroke="#000" stroke-width="0.6"/>
<rect x="523.4" y="555.50" width="31.2" height="11.15" fill="#96BE32" stroke="#000" stroke-width="0.6"/>
<rect x="523.4" y="566.65" width="31.2" height="11.15" fill="#BCEE68" stroke="#000" stroke-width="0.6"/>
<rect x="523.4" y="577.80" width="31.2" height="11.15" fill="#20B2AA" stroke="#000" stroke-width="0.6"/>
<rect x="523.4" y="588.95" width="31.2" height="11.15" fill="#B0E0E6" stroke="#000" stroke-width="0.6"/>
<rect x="523.4" y="600.10" width="31.2" height="11.15" fill="#7799EE" stroke="#000" stroke-width="0.6"/>
<rect x="523.4" y="611.25" width="31.2" height="11.15" fill="#4169E1" stroke="#000" stroke-width="0.6"/>
<rect x="523.4" y="622.40" width="31.2" height="11.15" fill="#0000CD" stroke="#000" stroke-width="0.6"/>
<rect x="523.4" y="633.55" width="31.2" height="11.15" fill="#9370DB" stroke="#000" stroke-width="0.6"/>
<text x="567.8" y="481.2" font-family='"Liberation Sans", sans-serif' font-size="10.4" font-weight="normal" text-anchor="middle" textLength="11.7" lengthAdjust="spacingAndGlyphs">20</text>
<text x="567.8" y="492.4" font-family='"Liberation Sans", sans-serif' font-size="10.4" font-weight="normal" text-anchor="middle" textLength="11.7" lengthAdjust="spacingAndGlyphs">15</text>
<text x="567.8" y="503.5" font-family='"Liberation Sans", sans-serif' font-size="10.4" font-weight="normal" text-anchor="middle" textLength="11.7" lengthAdjust="spacingAndGlyphs">10</text>
<text x="567.8" y="514.7" font-family='"Liberation Sans", sans-serif' font-size="10.4" font-weight="normal" text-anchor="middle" textLength="5.6" lengthAdjust="spacingAndGlyphs">8</text>
<text x="567.8" y="525.8" font-family='"Liberation Sans", sans-serif' font-size="10.4" font-weight="normal" text-anchor="middle" textLength="5.6" lengthAdjust="spacingAndGlyphs">6</text>
<text x="567.8" y="537.0" font-family='"Liberation Sans", sans-serif' font-size="10.4" font-weight="normal" text-anchor="middle" textLength="5.6" lengthAdjust="spacingAndGlyphs">4</text>
<text x="567.8" y="548.1" font-family='"Liberation Sans", sans-serif' font-size="10.4" font-weight="normal" text-anchor="middle" textLength="5.6" lengthAdjust="spacingAndGlyphs">2</text>
<text x="567.8" y="559.2" font-family='"Liberation Sans", sans-serif' font-size="10.4" font-weight="normal" text-anchor="middle" textLength="5.6" lengthAdjust="spacingAndGlyphs">0</text>
<text x="567.8" y="570.4" font-family='"Liberation Sans", sans-serif' font-size="10.4" font-weight="normal" text-anchor="middle" textLength="13.9" lengthAdjust="spacingAndGlyphs">−2</text>
<text x="567.8" y="581.5" font-family='"Liberation Sans", sans-serif' font-size="10.4" font-weight="normal" text-anchor="middle" textLength="13.9" lengthAdjust="spacingAndGlyphs">−4</text>
<text x="567.8" y="592.7" font-family='"Liberation Sans", sans-serif' font-size="10.4" font-weight="normal" text-anchor="middle" textLength="13.9" lengthAdjust="spacingAndGlyphs">−6</text>
<text x="567.8" y="603.9" font-family='"Liberation Sans", sans-serif' font-size="10.4" font-weight="normal" text-anchor="middle" textLength="13.9" lengthAdjust="spacingAndGlyphs">−8</text>
<text x="567.8" y="615.0" font-family='"Liberation Sans", sans-serif' font-size="10.4" font-weight="normal" text-anchor="middle" textLength="20.0" lengthAdjust="spacingAndGlyphs">−10</text>
<text x="567.8" y="626.1" font-family='"Liberation Sans", sans-serif' font-size="10.4" font-weight="normal" text-anchor="middle" textLength="20.0" lengthAdjust="spacingAndGlyphs">−15</text>
<text x="567.8" y="637.3" font-family='"Liberation Sans", sans-serif' font-size="10.4" font-weight="normal" text-anchor="middle" textLength="20.0" lengthAdjust="spacingAndGlyphs">−20</text>
</svg></body></html>
